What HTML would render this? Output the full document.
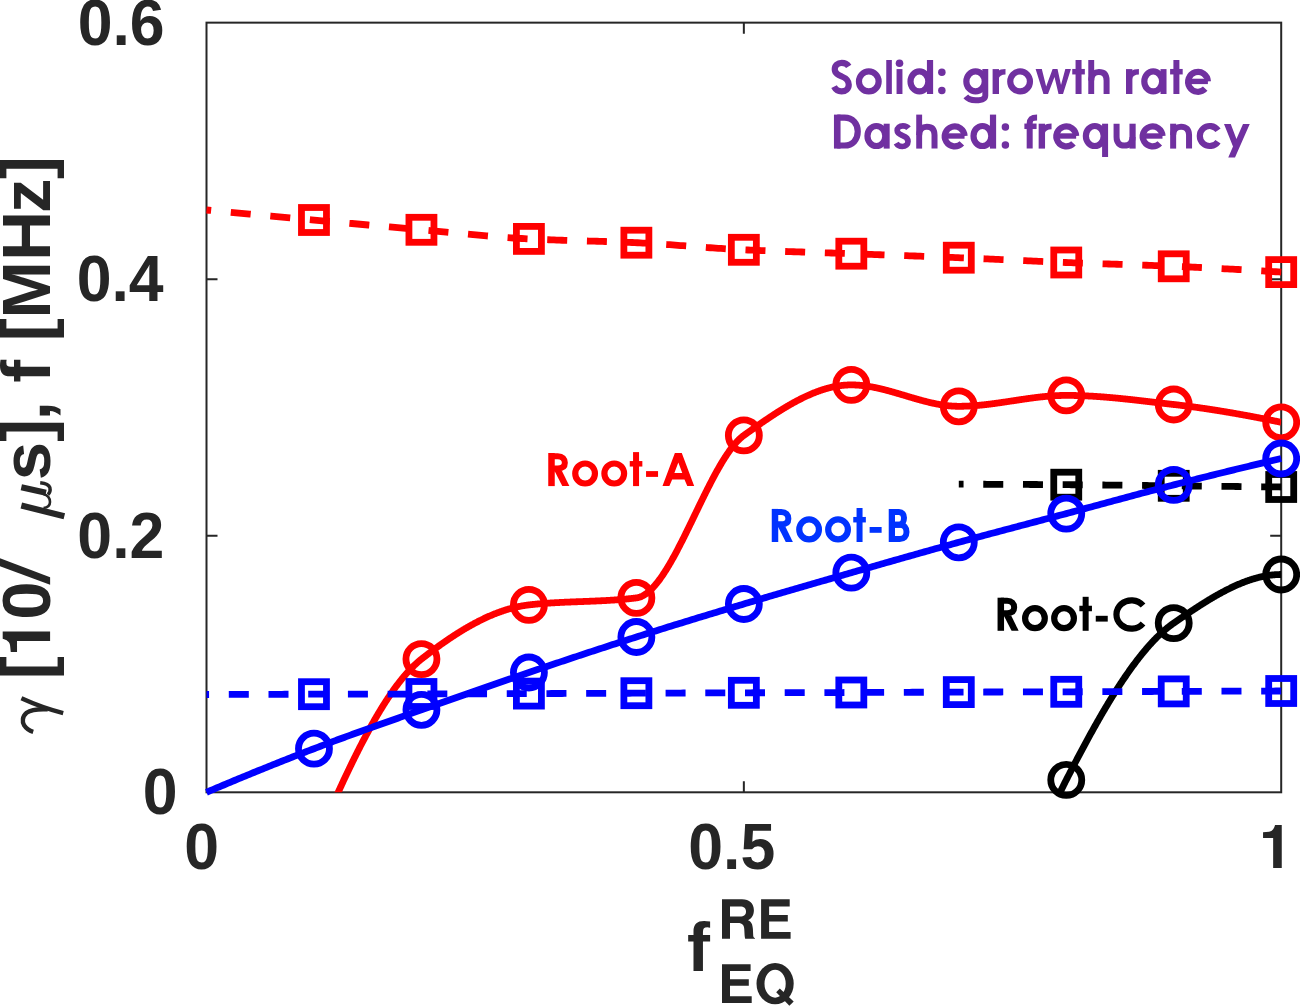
<!DOCTYPE html>
<html><head><meta charset="utf-8"><style>html,body{margin:0;padding:0;background:#fff;width:1300px;height:1006px;overflow:hidden}svg{display:block}</style></head>
<body><svg width="1300" height="1006" viewBox="0 0 1300 1006">
<defs><clipPath id="ax"><rect x="206.5" y="22.65" width="1074.70" height="769.65"/></clipPath></defs>
<rect width="1300" height="1006" fill="#fff"/>
<rect x="206.5" y="22.65" width="1074.70" height="769.65" fill="none" stroke="#262626" stroke-width="2"/><path d="M743.85,792.3 v-11 M743.85,22.65 v11" stroke="#262626" stroke-width="2"/><path d="M206.5,535.75 h11 M1281.2,535.75 h-11" stroke="#262626" stroke-width="2"/><path d="M206.5,279.20 h11 M1281.2,279.20 h-11" stroke="#262626" stroke-width="2"/>
<path d="M1281.20,272.10 L1278.51,271.93 L1275.81,271.76 L1273.12,271.59 L1270.43,271.43 L1267.73,271.26 L1265.04,271.10 L1262.35,270.93 L1259.65,270.77 L1256.96,270.61 L1254.27,270.45 L1251.57,270.29 L1248.88,270.13 L1246.18,269.98 L1243.49,269.82 L1240.80,269.67 L1238.10,269.51 L1235.41,269.36 L1232.72,269.21 L1230.02,269.06 L1227.33,268.92 L1224.64,268.77 L1221.94,268.63 L1219.25,268.48 L1216.56,268.34 L1213.86,268.20 L1211.17,268.06 L1208.48,267.93 L1205.78,267.79 L1203.09,267.66 L1200.40,267.52 L1197.70,267.39 L1195.01,267.26 L1192.32,267.14 L1189.62,267.01 L1186.93,266.88 L1184.23,266.76 L1181.54,266.64 L1178.85,266.52 L1176.15,266.40 L1173.46,266.29 L1170.77,266.17 L1168.07,266.06 L1165.38,265.95 L1162.69,265.85 L1159.99,265.74 L1157.30,265.64 L1154.61,265.54 L1151.91,265.44 L1149.22,265.34 L1146.53,265.25 L1143.83,265.15 L1141.14,265.06 L1138.45,264.97 L1135.75,264.88 L1133.06,264.79 L1130.36,264.70 L1127.67,264.61 L1124.98,264.52 L1122.28,264.43 L1119.59,264.34 L1116.90,264.26 L1114.20,264.17 L1111.51,264.08 L1108.82,263.99 L1106.12,263.91 L1103.43,263.82 L1100.74,263.73 L1098.04,263.64 L1095.35,263.55 L1092.66,263.46 L1089.96,263.37 L1087.27,263.27 L1084.58,263.18 L1081.88,263.08 L1079.19,262.99 L1076.50,262.89 L1073.80,262.79 L1071.11,262.69 L1068.41,262.58 L1065.72,262.48 L1063.03,262.37 L1060.33,262.26 L1057.64,262.15 L1054.95,262.04 L1052.25,261.92 L1049.56,261.81 L1046.87,261.69 L1044.17,261.57 L1041.48,261.45 L1038.79,261.33 L1036.09,261.21 L1033.40,261.09 L1030.71,260.96 L1028.01,260.84 L1025.32,260.71 L1022.63,260.59 L1019.93,260.46 L1017.24,260.34 L1014.55,260.21 L1011.85,260.08 L1009.16,259.96 L1006.46,259.83 L1003.77,259.70 L1001.08,259.58 L998.38,259.45 L995.69,259.33 L993.00,259.20 L990.30,259.08 L987.61,258.95 L984.92,258.83 L982.22,258.71 L979.53,258.59 L976.84,258.47 L974.14,258.35 L971.45,258.23 L968.76,258.12 L966.06,258.00 L963.37,257.89 L960.68,257.78 L957.98,257.67 L955.29,257.56 L952.59,257.45 L949.90,257.34 L947.21,257.24 L944.51,257.13 L941.82,257.03 L939.13,256.92 L936.43,256.82 L933.74,256.72 L931.05,256.61 L928.35,256.51 L925.66,256.41 L922.97,256.31 L920.27,256.21 L917.58,256.11 L914.89,256.01 L912.19,255.91 L909.50,255.81 L906.81,255.71 L904.11,255.61 L901.42,255.52 L898.73,255.42 L896.03,255.32 L893.34,255.22 L890.64,255.13 L887.95,255.03 L885.26,254.93 L882.56,254.83 L879.87,254.74 L877.18,254.64 L874.48,254.54 L871.79,254.44 L869.10,254.35 L866.40,254.25 L863.71,254.15 L861.02,254.05 L858.32,253.96 L855.63,253.86 L852.94,253.76 L850.24,253.66 L847.55,253.56 L844.86,253.47 L842.16,253.37 L839.47,253.28 L836.78,253.19 L834.08,253.09 L831.39,253.00 L828.69,252.91 L826.00,252.82 L823.31,252.73 L820.61,252.64 L817.92,252.56 L815.23,252.47 L812.53,252.38 L809.84,252.29 L807.15,252.20 L804.45,252.11 L801.76,252.02 L799.07,251.94 L796.37,251.84 L793.68,251.75 L790.99,251.66 L788.29,251.57 L785.60,251.48 L782.91,251.38 L780.21,251.28 L777.52,251.19 L774.83,251.09 L772.13,250.99 L769.44,250.88 L766.74,250.78 L764.05,250.67 L761.36,250.56 L758.66,250.45 L755.97,250.34 L753.28,250.22 L750.58,250.11 L747.89,249.99 L745.20,249.86 L742.50,249.74 L739.81,249.60 L737.12,249.46 L734.42,249.31 L731.73,249.16 L729.04,249.00 L726.34,248.83 L723.65,248.66 L720.96,248.48 L718.26,248.30 L715.57,248.12 L712.87,247.93 L710.18,247.74 L707.49,247.54 L704.79,247.34 L702.10,247.14 L699.41,246.94 L696.71,246.74 L694.02,246.54 L691.33,246.33 L688.63,246.13 L685.94,245.92 L683.25,245.72 L680.55,245.52 L677.86,245.32 L675.17,245.12 L672.47,244.92 L669.78,244.73 L667.09,244.54 L664.39,244.35 L661.70,244.16 L659.01,243.98 L656.31,243.81 L653.62,243.64 L650.92,243.48 L648.23,243.32 L645.54,243.17 L642.84,243.02 L640.15,242.88 L637.46,242.75 L634.76,242.63 L632.07,242.51 L629.38,242.39 L626.68,242.28 L623.99,242.18 L621.30,242.07 L618.60,241.97 L615.91,241.88 L613.22,241.79 L610.52,241.69 L607.83,241.61 L605.14,241.52 L602.44,241.44 L599.75,241.35 L597.06,241.27 L594.36,241.19 L591.67,241.11 L588.97,241.04 L586.28,240.96 L583.59,240.88 L580.89,240.80 L578.20,240.72 L575.51,240.64 L572.81,240.56 L570.12,240.48 L567.43,240.40 L564.73,240.31 L562.04,240.23 L559.35,240.14 L556.65,240.05 L553.96,239.95 L551.27,239.85 L548.57,239.75 L545.88,239.65 L543.19,239.54 L540.49,239.43 L537.80,239.32 L535.11,239.20 L532.41,239.07 L529.72,238.94 L527.02,238.80 L524.33,238.66 L521.64,238.51 L518.94,238.34 L516.25,238.17 L513.56,238.00 L510.86,237.81 L508.17,237.62 L505.48,237.43 L502.78,237.22 L500.09,237.01 L497.40,236.80 L494.70,236.58 L492.01,236.36 L489.32,236.13 L486.62,235.89 L483.93,235.65 L481.24,235.41 L478.54,235.17 L475.85,234.92 L473.15,234.67 L470.46,234.42 L467.77,234.17 L465.07,233.91 L462.38,233.65 L459.69,233.39 L456.99,233.13 L454.30,232.87 L451.61,232.62 L448.91,232.36 L446.22,232.10 L443.53,231.84 L440.83,231.58 L438.14,231.33 L435.45,231.07 L432.75,230.82 L430.06,230.57 L427.37,230.33 L424.67,230.09 L421.98,229.85 L419.29,229.61 L416.59,229.37 L413.90,229.13 L411.20,228.90 L408.51,228.66 L405.82,228.42 L403.12,228.17 L400.43,227.93 L397.74,227.69 L395.04,227.45 L392.35,227.20 L389.66,226.96 L386.96,226.72 L384.27,226.47 L381.58,226.23 L378.88,225.98 L376.19,225.74 L373.50,225.49 L370.80,225.24 L368.11,224.99 L365.42,224.75 L362.72,224.50 L360.03,224.25 L357.34,224.00 L354.64,223.76 L351.95,223.51 L349.25,223.26 L346.56,223.01 L343.87,222.76 L341.17,222.51 L338.48,222.26 L335.79,222.01 L333.09,221.77 L330.40,221.52 L327.71,221.27 L325.01,221.02 L322.32,220.77 L319.63,220.52 L316.93,220.27 L314.24,220.02 L311.55,219.78 L308.85,219.53 L306.16,219.28 L303.47,219.03 L300.77,218.78 L298.08,218.53 L295.38,218.29 L292.69,218.04 L290.00,217.79 L287.30,217.54 L284.61,217.29 L281.92,217.04 L279.22,216.79 L276.53,216.54 L273.84,216.29 L271.14,216.04 L268.45,215.79 L265.76,215.54 L263.06,215.29 L260.37,215.04 L257.68,214.79 L254.98,214.54 L252.29,214.29 L249.60,214.03 L246.90,213.78 L244.21,213.53 L241.52,213.28 L238.82,213.03 L236.13,212.78 L233.43,212.53 L230.74,212.27 L228.05,212.02 L225.35,211.77 L222.66,211.52 L219.97,211.26 L217.27,211.01 L214.58,210.76 L211.89,210.51 L209.19,210.25 L206.50,210.00" fill="none" stroke="#ff0000" stroke-width="6.8" stroke-dasharray="20.0 19.708"/><rect x="301.47" y="207.50" width="25.0" height="25.0" fill="none" stroke="#ff0000" stroke-width="6.8"/><rect x="408.94" y="217.30" width="25.0" height="25.0" fill="none" stroke="#ff0000" stroke-width="6.8"/><rect x="516.41" y="226.40" width="25.0" height="25.0" fill="none" stroke="#ff0000" stroke-width="6.8"/><rect x="623.88" y="230.20" width="25.0" height="25.0" fill="none" stroke="#ff0000" stroke-width="6.8"/><rect x="731.35" y="237.30" width="25.0" height="25.0" fill="none" stroke="#ff0000" stroke-width="6.8"/><rect x="838.82" y="241.20" width="25.0" height="25.0" fill="none" stroke="#ff0000" stroke-width="6.8"/><rect x="946.29" y="245.20" width="25.0" height="25.0" fill="none" stroke="#ff0000" stroke-width="6.8"/><rect x="1053.76" y="250.00" width="25.0" height="25.0" fill="none" stroke="#ff0000" stroke-width="6.8"/><rect x="1161.23" y="253.80" width="25.0" height="25.0" fill="none" stroke="#ff0000" stroke-width="6.8"/><rect x="1268.70" y="259.60" width="25.0" height="25.0" fill="none" stroke="#ff0000" stroke-width="6.8"/><g clip-path="url(#ax)"><path d="M313.97,847.40 L314.51,846.14 L315.04,844.88 L315.58,843.63 L316.12,842.37 L316.66,841.12 L317.19,839.86 L317.73,838.61 L318.27,837.36 L318.81,836.11 L319.34,834.87 L319.88,833.62 L320.42,832.38 L320.96,831.13 L321.49,829.89 L322.03,828.65 L322.57,827.42 L323.10,826.18 L323.64,824.95 L324.18,823.71 L324.72,822.48 L325.25,821.25 L325.79,820.02 L326.33,818.80 L326.87,817.57 L327.40,816.35 L327.94,815.13 L328.48,813.91 L329.02,812.70 L329.55,811.48 L330.09,810.27 L330.63,809.06 L331.17,807.85 L331.70,806.65 L332.24,805.44 L332.78,804.24 L333.31,803.04 L333.85,801.84 L334.39,800.65 L334.93,799.46 L335.46,798.27 L336.00,797.08 L336.54,795.89 L337.08,794.71 L337.61,793.53 L338.15,792.35 L338.69,791.18 L339.23,790.00 L339.76,788.83 L340.30,787.66 L340.84,786.50 L341.37,785.34 L341.91,784.18 L342.45,783.02 L342.99,781.87 L343.52,780.71 L344.06,779.57 L344.60,778.42 L345.14,777.28 L345.67,776.14 L346.21,775.00 L346.75,773.87 L347.29,772.73 L347.82,771.61 L348.36,770.48 L348.90,769.36 L349.44,768.24 L349.97,767.13 L350.51,766.01 L351.05,764.90 L351.58,763.80 L352.12,762.70 L352.66,761.60 L353.20,760.50 L353.73,759.41 L354.27,758.32 L354.81,757.23 L355.35,756.15 L355.88,755.07 L356.42,754.00 L356.96,752.92 L357.50,751.86 L358.03,750.79 L358.57,749.73 L359.11,748.67 L359.64,747.62 L360.18,746.57 L360.72,745.52 L361.26,744.48 L361.79,743.44 L362.33,742.41 L362.87,741.38 L363.41,740.35 L363.94,739.33 L364.48,738.31 L365.02,737.30 L365.56,736.29 L366.09,735.28 L366.63,734.28 L367.17,733.28 L367.71,732.28 L368.24,731.29 L368.78,730.31 L369.32,729.33 L369.85,728.35 L370.39,727.38 L370.93,726.41 L371.47,725.44 L372.00,724.48 L372.54,723.53 L373.08,722.58 L373.62,721.63 L374.15,720.69 L374.69,719.75 L375.23,718.82 L375.77,717.89 L376.30,716.97 L376.84,716.05 L377.38,715.13 L377.91,714.22 L378.45,713.32 L378.99,712.42 L379.53,711.52 L380.06,710.63 L380.60,709.75 L381.14,708.87 L381.68,707.99 L382.21,707.12 L382.75,706.26 L383.29,705.40 L383.83,704.54 L384.36,703.69 L384.90,702.85 L385.44,702.01 L385.97,701.17 L386.51,700.34 L387.05,699.52 L387.59,698.70 L388.12,697.89 L388.66,697.08 L389.20,696.28 L389.74,695.48 L390.27,694.69 L390.81,693.90 L391.35,693.12 L391.89,692.34 L392.42,691.57 L392.96,690.81 L393.50,690.05 L394.04,689.30 L394.57,688.55 L395.11,687.81 L395.65,687.07 L396.18,686.34 L396.72,685.62 L397.26,684.90 L397.80,684.19 L398.33,683.48 L398.87,682.78 L399.41,682.09 L399.95,681.40 L400.48,680.71 L401.02,680.04 L401.56,679.37 L402.10,678.70 L402.63,678.04 L403.17,677.39 L403.71,676.74 L404.24,676.10 L404.78,675.47 L405.32,674.84 L405.86,674.22 L406.39,673.61 L406.93,673.00 L407.47,672.40 L408.01,671.80 L408.54,671.21 L409.08,670.63 L409.62,670.06 L410.16,669.49 L410.69,668.92 L411.23,668.37 L411.77,667.82 L412.31,667.27 L412.84,666.74 L413.38,666.21 L413.92,665.69 L414.45,665.17 L414.99,664.66 L415.53,664.16 L416.07,663.67 L416.60,663.18 L417.14,662.70 L417.68,662.22 L418.22,661.75 L418.75,661.29 L419.29,660.84 L419.83,660.39 L420.37,659.96 L420.90,659.52 L421.44,659.10 L421.98,658.68 L422.51,658.26 L423.05,657.84 L423.59,657.42 L424.13,657.01 L424.66,656.59 L425.20,656.18 L425.74,655.76 L426.28,655.35 L426.81,654.94 L427.35,654.53 L427.89,654.12 L428.43,653.71 L428.96,653.30 L429.50,652.89 L430.04,652.49 L430.57,652.08 L431.11,651.68 L431.65,651.28 L432.19,650.88 L432.72,650.48 L433.26,650.08 L433.80,649.68 L434.34,649.28 L434.87,648.89 L435.41,648.49 L435.95,648.10 L436.49,647.70 L437.02,647.31 L437.56,646.92 L438.10,646.53 L438.64,646.15 L439.17,645.76 L439.71,645.37 L440.25,644.99 L440.78,644.61 L441.32,644.22 L441.86,643.84 L442.40,643.46 L442.93,643.09 L443.47,642.71 L444.01,642.33 L444.55,641.96 L445.08,641.59 L445.62,641.21 L446.16,640.84 L446.70,640.48 L447.23,640.11 L447.77,639.74 L448.31,639.38 L448.84,639.01 L449.38,638.65 L449.92,638.29 L450.46,637.93 L450.99,637.57 L451.53,637.21 L452.07,636.86 L452.61,636.50 L453.14,636.15 L453.68,635.80 L454.22,635.45 L454.76,635.10 L455.29,634.76 L455.83,634.41 L456.37,634.07 L456.91,633.72 L457.44,633.38 L457.98,633.04 L458.52,632.71 L459.05,632.37 L459.59,632.03 L460.13,631.70 L460.67,631.37 L461.20,631.04 L461.74,630.71 L462.28,630.38 L462.82,630.06 L463.35,629.73 L463.89,629.41 L464.43,629.09 L464.97,628.77 L465.50,628.45 L466.04,628.14 L466.58,627.82 L467.11,627.51 L467.65,627.20 L468.19,626.89 L468.73,626.58 L469.26,626.28 L469.80,625.97 L470.34,625.67 L470.88,625.37 L471.41,625.07 L471.95,624.78 L472.49,624.48 L473.03,624.19 L473.56,623.89 L474.10,623.60 L474.64,623.32 L475.18,623.03 L475.71,622.74 L476.25,622.46 L476.79,622.18 L477.32,621.90 L477.86,621.62 L478.40,621.35 L478.94,621.07 L479.47,620.80 L480.01,620.53 L480.55,620.26 L481.09,620.00 L481.62,619.73 L482.16,619.47 L482.70,619.21 L483.24,618.95 L483.77,618.69 L484.31,618.44 L484.85,618.18 L485.38,617.93 L485.92,617.68 L486.46,617.44 L487.00,617.19 L487.53,616.95 L488.07,616.71 L488.61,616.47 L489.15,616.23 L489.68,616.00 L490.22,615.76 L490.76,615.53 L491.30,615.30 L491.83,615.08 L492.37,614.85 L492.91,614.63 L493.44,614.41 L493.98,614.19 L494.52,613.97 L495.06,613.76 L495.59,613.55 L496.13,613.33 L496.67,613.13 L497.21,612.92 L497.74,612.72 L498.28,612.52 L498.82,612.32 L499.36,612.12 L499.89,611.92 L500.43,611.73 L500.97,611.54 L501.51,611.35 L502.04,611.17 L502.58,610.98 L503.12,610.80 L503.65,610.62 L504.19,610.44 L504.73,610.27 L505.27,610.10 L505.80,609.93 L506.34,609.76 L506.88,609.59 L507.42,609.43 L507.95,609.27 L508.49,609.11 L509.03,608.95 L509.57,608.80 L510.10,608.65 L510.64,608.50 L511.18,608.35 L511.71,608.21 L512.25,608.07 L512.79,607.93 L513.33,607.79 L513.86,607.65 L514.40,607.52 L514.94,607.39 L515.48,607.26 L516.01,607.14 L516.55,607.02 L517.09,606.90 L517.63,606.78 L518.16,606.66 L518.70,606.55 L519.24,606.44 L519.78,606.33 L520.31,606.23 L520.85,606.13 L521.39,606.03 L521.92,605.93 L522.46,605.83 L523.00,605.74 L523.54,605.65 L524.07,605.57 L524.61,605.48 L525.15,605.40 L525.69,605.32 L526.22,605.24 L526.76,605.17 L527.30,605.10 L527.84,605.03 L528.37,604.96 L528.91,604.90 L529.45,604.84 L529.98,604.78 L530.52,604.72 L531.06,604.66 L531.60,604.60 L532.13,604.54 L532.67,604.49 L533.21,604.43 L533.75,604.38 L534.28,604.32 L534.82,604.27 L535.36,604.22 L535.90,604.16 L536.43,604.11 L536.97,604.06 L537.51,604.01 L538.04,603.96 L538.58,603.91 L539.12,603.87 L539.66,603.82 L540.19,603.77 L540.73,603.73 L541.27,603.68 L541.81,603.64 L542.34,603.60 L542.88,603.55 L543.42,603.51 L543.96,603.47 L544.49,603.43 L545.03,603.39 L545.57,603.35 L546.11,603.31 L546.64,603.27 L547.18,603.23 L547.72,603.19 L548.25,603.16 L548.79,603.12 L549.33,603.08 L549.87,603.05 L550.40,603.01 L550.94,602.98 L551.48,602.95 L552.02,602.91 L552.55,602.88 L553.09,602.85 L553.63,602.82 L554.17,602.78 L554.70,602.75 L555.24,602.72 L555.78,602.69 L556.31,602.66 L556.85,602.63 L557.39,602.60 L557.93,602.57 L558.46,602.55 L559.00,602.52 L559.54,602.49 L560.08,602.46 L560.61,602.44 L561.15,602.41 L561.69,602.38 L562.23,602.36 L562.76,602.33 L563.30,602.31 L563.84,602.28 L564.38,602.26 L564.91,602.23 L565.45,602.21 L565.99,602.19 L566.52,602.16 L567.06,602.14 L567.60,602.12 L568.14,602.09 L568.67,602.07 L569.21,602.05 L569.75,602.03 L570.29,602.00 L570.82,601.98 L571.36,601.96 L571.90,601.94 L572.44,601.92 L572.97,601.90 L573.51,601.88 L574.05,601.85 L574.58,601.83 L575.12,601.81 L575.66,601.79 L576.20,601.77 L576.73,601.75 L577.27,601.73 L577.81,601.71 L578.35,601.69 L578.88,601.67 L579.42,601.65 L579.96,601.63 L580.50,601.61 L581.03,601.59 L581.57,601.57 L582.11,601.55 L582.64,601.53 L583.18,601.51 L583.72,601.49 L584.26,601.47 L584.79,601.45 L585.33,601.43 L585.87,601.41 L586.41,601.39 L586.94,601.36 L587.48,601.34 L588.02,601.32 L588.56,601.30 L589.09,601.28 L589.63,601.26 L590.17,601.24 L590.71,601.22 L591.24,601.19 L591.78,601.17 L592.32,601.15 L592.85,601.13 L593.39,601.11 L593.93,601.08 L594.47,601.06 L595.00,601.04 L595.54,601.01 L596.08,600.99 L596.62,600.97 L597.15,600.94 L597.69,600.92 L598.23,600.89 L598.77,600.87 L599.30,600.84 L599.84,600.82 L600.38,600.79 L600.91,600.77 L601.45,600.74 L601.99,600.71 L602.53,600.69 L603.06,600.66 L603.60,600.63 L604.14,600.60 L604.68,600.58 L605.21,600.55 L605.75,600.52 L606.29,600.49 L606.83,600.46 L607.36,600.43 L607.90,600.40 L608.44,600.36 L608.98,600.33 L609.51,600.30 L610.05,600.27 L610.59,600.23 L611.12,600.20 L611.66,600.17 L612.20,600.13 L612.74,600.10 L613.27,600.06 L613.81,600.02 L614.35,599.99 L614.89,599.95 L615.42,599.91 L615.96,599.87 L616.50,599.83 L617.04,599.79 L617.57,599.75 L618.11,599.71 L618.65,599.67 L619.18,599.63 L619.72,599.59 L620.26,599.54 L620.80,599.50 L621.33,599.45 L621.87,599.41 L622.41,599.36 L622.95,599.32 L623.48,599.27 L624.02,599.22 L624.56,599.17 L625.10,599.12 L625.63,599.07 L626.17,599.02 L626.71,598.97 L627.25,598.92 L627.78,598.86 L628.32,598.81 L628.86,598.75 L629.39,598.70 L629.93,598.64 L630.47,598.58 L631.01,598.53 L631.54,598.47 L632.08,598.41 L632.62,598.35 L633.16,598.29 L633.69,598.22 L634.23,598.16 L634.77,598.10 L635.31,598.03 L635.84,597.97 L636.38,597.90 L636.92,597.82 L637.45,597.73 L637.99,597.61 L638.53,597.48 L639.07,597.33 L639.60,597.16 L640.14,596.97 L640.68,596.76 L641.22,596.54 L641.75,596.30 L642.29,596.04 L642.83,595.76 L643.37,595.47 L643.90,595.16 L644.44,594.83 L644.98,594.49 L645.51,594.13 L646.05,593.76 L646.59,593.36 L647.13,592.96 L647.66,592.53 L648.20,592.09 L648.74,591.64 L649.28,591.17 L649.81,590.69 L650.35,590.19 L650.89,589.67 L651.43,589.15 L651.96,588.60 L652.50,588.05 L653.04,587.48 L653.58,586.89 L654.11,586.30 L654.65,585.68 L655.19,585.06 L655.72,584.42 L656.26,583.77 L656.80,583.11 L657.34,582.44 L657.87,581.75 L658.41,581.05 L658.95,580.34 L659.49,579.61 L660.02,578.88 L660.56,578.13 L661.10,577.37 L661.64,576.61 L662.17,575.83 L662.71,575.03 L663.25,574.23 L663.78,573.42 L664.32,572.60 L664.86,571.77 L665.40,570.93 L665.93,570.08 L666.47,569.22 L667.01,568.35 L667.55,567.47 L668.08,566.58 L668.62,565.68 L669.16,564.78 L669.70,563.86 L670.23,562.94 L670.77,562.01 L671.31,561.07 L671.85,560.12 L672.38,559.17 L672.92,558.21 L673.46,557.24 L673.99,556.27 L674.53,555.28 L675.07,554.30 L675.61,553.30 L676.14,552.30 L676.68,551.29 L677.22,550.28 L677.76,549.26 L678.29,548.23 L678.83,547.20 L679.37,546.16 L679.91,545.12 L680.44,544.08 L680.98,543.03 L681.52,541.97 L682.05,540.91 L682.59,539.85 L683.13,538.78 L683.67,537.71 L684.20,536.63 L684.74,535.55 L685.28,534.47 L685.82,533.38 L686.35,532.29 L686.89,531.20 L687.43,530.11 L687.97,529.01 L688.50,527.91 L689.04,526.81 L689.58,525.71 L690.12,524.60 L690.65,523.50 L691.19,522.39 L691.73,521.28 L692.26,520.17 L692.80,519.06 L693.34,517.95 L693.88,516.84 L694.41,515.72 L694.95,514.61 L695.49,513.50 L696.03,512.38 L696.56,511.27 L697.10,510.16 L697.64,509.05 L698.18,507.94 L698.71,506.83 L699.25,505.72 L699.79,504.62 L700.32,503.51 L700.86,502.41 L701.40,501.31 L701.94,500.21 L702.47,499.11 L703.01,498.02 L703.55,496.92 L704.09,495.83 L704.62,494.75 L705.16,493.67 L705.70,492.59 L706.24,491.51 L706.77,490.44 L707.31,489.37 L707.85,488.30 L708.38,487.24 L708.92,486.19 L709.46,485.14 L710.00,484.09 L710.53,483.05 L711.07,482.01 L711.61,480.98 L712.15,479.96 L712.68,478.94 L713.22,477.92 L713.76,476.91 L714.30,475.91 L714.83,474.91 L715.37,473.92 L715.91,472.94 L716.45,471.97 L716.98,471.00 L717.52,470.04 L718.06,469.08 L718.59,468.13 L719.13,467.20 L719.67,466.26 L720.21,465.34 L720.74,464.43 L721.28,463.52 L721.82,462.62 L722.36,461.73 L722.89,460.85 L723.43,459.98 L723.97,459.12 L724.51,458.27 L725.04,457.43 L725.58,456.59 L726.12,455.77 L726.65,454.96 L727.19,454.16 L727.73,453.37 L728.27,452.59 L728.80,451.82 L729.34,451.06 L729.88,450.31 L730.42,449.57 L730.95,448.85 L731.49,448.14 L732.03,447.44 L732.57,446.75 L733.10,446.07 L733.64,445.41 L734.18,444.76 L734.72,444.12 L735.25,443.49 L735.79,442.88 L736.33,442.28 L736.86,441.70 L737.40,441.12 L737.94,440.57 L738.48,440.02 L739.01,439.49 L739.55,438.98 L740.09,438.48 L740.63,437.99 L741.16,437.52 L741.70,437.07 L742.24,436.63 L742.78,436.20 L743.31,435.79 L743.85,435.40 L744.39,435.01 L744.92,434.63 L745.46,434.24 L746.00,433.86 L746.54,433.48 L747.07,433.09 L747.61,432.71 L748.15,432.32 L748.69,431.94 L749.22,431.56 L749.76,431.17 L750.30,430.79 L750.84,430.41 L751.37,430.03 L751.91,429.65 L752.45,429.26 L752.98,428.88 L753.52,428.50 L754.06,428.12 L754.60,427.74 L755.13,427.37 L755.67,426.99 L756.21,426.61 L756.75,426.23 L757.28,425.86 L757.82,425.48 L758.36,425.10 L758.90,424.73 L759.43,424.36 L759.97,423.98 L760.51,423.61 L761.05,423.24 L761.58,422.86 L762.12,422.49 L762.66,422.12 L763.19,421.75 L763.73,421.39 L764.27,421.02 L764.81,420.65 L765.34,420.29 L765.88,419.92 L766.42,419.56 L766.96,419.19 L767.49,418.83 L768.03,418.47 L768.57,418.11 L769.11,417.75 L769.64,417.39 L770.18,417.03 L770.72,416.67 L771.25,416.32 L771.79,415.96 L772.33,415.61 L772.87,415.26 L773.40,414.91 L773.94,414.56 L774.48,414.21 L775.02,413.86 L775.55,413.51 L776.09,413.17 L776.63,412.82 L777.17,412.48 L777.70,412.14 L778.24,411.79 L778.78,411.45 L779.32,411.12 L779.85,410.78 L780.39,410.44 L780.93,410.11 L781.46,409.78 L782.00,409.45 L782.54,409.12 L783.08,408.79 L783.61,408.46 L784.15,408.13 L784.69,407.81 L785.23,407.49 L785.76,407.17 L786.30,406.85 L786.84,406.53 L787.38,406.21 L787.91,405.90 L788.45,405.58 L788.99,405.27 L789.52,404.96 L790.06,404.65 L790.60,404.35 L791.14,404.04 L791.67,403.74 L792.21,403.44 L792.75,403.14 L793.29,402.84 L793.82,402.54 L794.36,402.25 L794.90,401.95 L795.44,401.66 L795.97,401.37 L796.51,401.09 L797.05,400.80 L797.59,400.52 L798.12,400.24 L798.66,399.96 L799.20,399.68 L799.73,399.40 L800.27,399.13 L800.81,398.86 L801.35,398.59 L801.88,398.32 L802.42,398.06 L802.96,397.79 L803.50,397.53 L804.03,397.27 L804.57,397.02 L805.11,396.76 L805.65,396.51 L806.18,396.26 L806.72,396.01 L807.26,395.76 L807.79,395.52 L808.33,395.28 L808.87,395.04 L809.41,394.80 L809.94,394.57 L810.48,394.34 L811.02,394.11 L811.56,393.88 L812.09,393.65 L812.63,393.43 L813.17,393.21 L813.71,392.99 L814.24,392.78 L814.78,392.56 L815.32,392.35 L815.85,392.15 L816.39,391.94 L816.93,391.74 L817.47,391.54 L818.00,391.34 L818.54,391.15 L819.08,390.95 L819.62,390.76 L820.15,390.58 L820.69,390.39 L821.23,390.21 L821.77,390.03 L822.30,389.86 L822.84,389.68 L823.38,389.51 L823.92,389.34 L824.45,389.18 L824.99,389.02 L825.53,388.86 L826.06,388.70 L826.60,388.55 L827.14,388.40 L827.68,388.25 L828.21,388.10 L828.75,387.96 L829.29,387.82 L829.83,387.69 L830.36,387.55 L830.90,387.42 L831.44,387.30 L831.98,387.17 L832.51,387.05 L833.05,386.93 L833.59,386.82 L834.12,386.71 L834.66,386.60 L835.20,386.49 L835.74,386.39 L836.27,386.29 L836.81,386.20 L837.35,386.11 L837.89,386.02 L838.42,385.93 L838.96,385.85 L839.50,385.77 L840.04,385.69 L840.57,385.62 L841.11,385.55 L841.65,385.49 L842.19,385.42 L842.72,385.36 L843.26,385.31 L843.80,385.26 L844.33,385.21 L844.87,385.16 L845.41,385.12 L845.95,385.08 L846.48,385.05 L847.02,385.02 L847.56,384.99 L848.10,384.97 L848.63,384.95 L849.17,384.93 L849.71,384.92 L850.25,384.91 L850.78,384.90 L851.32,384.90 L851.86,384.90 L852.39,384.91 L852.93,384.91 L853.47,384.93 L854.01,384.94 L854.54,384.96 L855.08,384.98 L855.62,385.00 L856.16,385.03 L856.69,385.06 L857.23,385.09 L857.77,385.12 L858.31,385.16 L858.84,385.20 L859.38,385.24 L859.92,385.29 L860.45,385.34 L860.99,385.39 L861.53,385.44 L862.07,385.50 L862.60,385.56 L863.14,385.62 L863.68,385.68 L864.22,385.75 L864.75,385.82 L865.29,385.89 L865.83,385.96 L866.37,386.04 L866.90,386.12 L867.44,386.20 L867.98,386.28 L868.52,386.37 L869.05,386.46 L869.59,386.55 L870.13,386.64 L870.66,386.73 L871.20,386.83 L871.74,386.92 L872.28,387.02 L872.81,387.13 L873.35,387.23 L873.89,387.33 L874.43,387.44 L874.96,387.55 L875.50,387.66 L876.04,387.78 L876.58,387.89 L877.11,388.01 L877.65,388.12 L878.19,388.24 L878.72,388.36 L879.26,388.49 L879.80,388.61 L880.34,388.74 L880.87,388.87 L881.41,388.99 L881.95,389.12 L882.49,389.26 L883.02,389.39 L883.56,389.52 L884.10,389.66 L884.64,389.79 L885.17,389.93 L885.71,390.07 L886.25,390.21 L886.79,390.35 L887.32,390.50 L887.86,390.64 L888.40,390.78 L888.93,390.93 L889.47,391.08 L890.01,391.22 L890.55,391.37 L891.08,391.52 L891.62,391.67 L892.16,391.82 L892.70,391.97 L893.23,392.13 L893.77,392.28 L894.31,392.43 L894.85,392.59 L895.38,392.74 L895.92,392.90 L896.46,393.05 L896.99,393.21 L897.53,393.37 L898.07,393.53 L898.61,393.68 L899.14,393.84 L899.68,394.00 L900.22,394.16 L900.76,394.32 L901.29,394.48 L901.83,394.64 L902.37,394.80 L902.91,394.96 L903.44,395.12 L903.98,395.28 L904.52,395.44 L905.06,395.60 L905.59,395.76 L906.13,395.92 L906.67,396.08 L907.20,396.24 L907.74,396.40 L908.28,396.56 L908.82,396.72 L909.35,396.88 L909.89,397.04 L910.43,397.20 L910.97,397.36 L911.50,397.52 L912.04,397.67 L912.58,397.83 L913.12,397.99 L913.65,398.15 L914.19,398.30 L914.73,398.46 L915.26,398.61 L915.80,398.77 L916.34,398.92 L916.88,399.07 L917.41,399.23 L917.95,399.38 L918.49,399.53 L919.03,399.68 L919.56,399.83 L920.10,399.98 L920.64,400.12 L921.18,400.27 L921.71,400.42 L922.25,400.56 L922.79,400.70 L923.32,400.85 L923.86,400.99 L924.40,401.13 L924.94,401.27 L925.47,401.41 L926.01,401.54 L926.55,401.68 L927.09,401.81 L927.62,401.94 L928.16,402.08 L928.70,402.21 L929.24,402.33 L929.77,402.46 L930.31,402.59 L930.85,402.71 L931.39,402.84 L931.92,402.96 L932.46,403.08 L933.00,403.19 L933.53,403.31 L934.07,403.42 L934.61,403.54 L935.15,403.65 L935.68,403.76 L936.22,403.87 L936.76,403.97 L937.30,404.07 L937.83,404.18 L938.37,404.28 L938.91,404.37 L939.45,404.47 L939.98,404.56 L940.52,404.65 L941.06,404.74 L941.59,404.83 L942.13,404.92 L942.67,405.00 L943.21,405.08 L943.74,405.16 L944.28,405.24 L944.82,405.31 L945.36,405.38 L945.89,405.45 L946.43,405.52 L946.97,405.58 L947.51,405.64 L948.04,405.70 L948.58,405.76 L949.12,405.81 L949.66,405.86 L950.19,405.91 L950.73,405.96 L951.27,406.00 L951.80,406.04 L952.34,406.08 L952.88,406.11 L953.42,406.14 L953.95,406.17 L954.49,406.20 L955.03,406.22 L955.57,406.24 L956.10,406.26 L956.64,406.27 L957.18,406.29 L957.72,406.29 L958.25,406.30 L958.79,406.30 L959.33,406.30 L959.86,406.30 L960.40,406.29 L960.94,406.29 L961.48,406.28 L962.01,406.27 L962.55,406.26 L963.09,406.25 L963.63,406.24 L964.16,406.22 L964.70,406.20 L965.24,406.19 L965.78,406.17 L966.31,406.15 L966.85,406.13 L967.39,406.10 L967.92,406.08 L968.46,406.05 L969.00,406.02 L969.54,405.99 L970.07,405.96 L970.61,405.93 L971.15,405.90 L971.69,405.87 L972.22,405.83 L972.76,405.80 L973.30,405.76 L973.84,405.72 L974.37,405.68 L974.91,405.64 L975.45,405.60 L975.99,405.55 L976.52,405.51 L977.06,405.46 L977.60,405.42 L978.13,405.37 L978.67,405.32 L979.21,405.27 L979.75,405.22 L980.28,405.17 L980.82,405.11 L981.36,405.06 L981.90,405.01 L982.43,404.95 L982.97,404.89 L983.51,404.84 L984.05,404.78 L984.58,404.72 L985.12,404.66 L985.66,404.60 L986.19,404.54 L986.73,404.47 L987.27,404.41 L987.81,404.35 L988.34,404.28 L988.88,404.21 L989.42,404.15 L989.96,404.08 L990.49,404.01 L991.03,403.95 L991.57,403.88 L992.11,403.81 L992.64,403.74 L993.18,403.67 L993.72,403.59 L994.26,403.52 L994.79,403.45 L995.33,403.38 L995.87,403.30 L996.40,403.23 L996.94,403.15 L997.48,403.08 L998.02,403.00 L998.55,402.93 L999.09,402.85 L999.63,402.77 L1000.17,402.70 L1000.70,402.62 L1001.24,402.54 L1001.78,402.46 L1002.32,402.38 L1002.85,402.31 L1003.39,402.23 L1003.93,402.15 L1004.46,402.07 L1005.00,401.99 L1005.54,401.91 L1006.08,401.83 L1006.61,401.75 L1007.15,401.66 L1007.69,401.58 L1008.23,401.50 L1008.76,401.42 L1009.30,401.34 L1009.84,401.26 L1010.38,401.18 L1010.91,401.10 L1011.45,401.01 L1011.99,400.93 L1012.53,400.85 L1013.06,400.77 L1013.60,400.69 L1014.14,400.60 L1014.67,400.52 L1015.21,400.44 L1015.75,400.36 L1016.29,400.28 L1016.82,400.20 L1017.36,400.12 L1017.90,400.04 L1018.44,399.95 L1018.97,399.87 L1019.51,399.79 L1020.05,399.71 L1020.59,399.63 L1021.12,399.55 L1021.66,399.47 L1022.20,399.39 L1022.73,399.32 L1023.27,399.24 L1023.81,399.16 L1024.35,399.08 L1024.88,399.00 L1025.42,398.93 L1025.96,398.85 L1026.50,398.77 L1027.03,398.70 L1027.57,398.62 L1028.11,398.55 L1028.65,398.47 L1029.18,398.40 L1029.72,398.32 L1030.26,398.25 L1030.79,398.18 L1031.33,398.11 L1031.87,398.03 L1032.41,397.96 L1032.94,397.89 L1033.48,397.82 L1034.02,397.75 L1034.56,397.69 L1035.09,397.62 L1035.63,397.55 L1036.17,397.49 L1036.71,397.42 L1037.24,397.35 L1037.78,397.29 L1038.32,397.23 L1038.86,397.16 L1039.39,397.10 L1039.93,397.04 L1040.47,396.98 L1041.00,396.92 L1041.54,396.86 L1042.08,396.81 L1042.62,396.75 L1043.15,396.69 L1043.69,396.64 L1044.23,396.59 L1044.77,396.53 L1045.30,396.48 L1045.84,396.43 L1046.38,396.38 L1046.92,396.33 L1047.45,396.28 L1047.99,396.24 L1048.53,396.19 L1049.06,396.15 L1049.60,396.10 L1050.14,396.06 L1050.68,396.02 L1051.21,395.98 L1051.75,395.94 L1052.29,395.90 L1052.83,395.87 L1053.36,395.83 L1053.90,395.80 L1054.44,395.77 L1054.98,395.74 L1055.51,395.71 L1056.05,395.68 L1056.59,395.65 L1057.13,395.62 L1057.66,395.60 L1058.20,395.57 L1058.74,395.55 L1059.27,395.53 L1059.81,395.51 L1060.35,395.50 L1060.89,395.48 L1061.42,395.46 L1061.96,395.45 L1062.50,395.44 L1063.04,395.43 L1063.57,395.42 L1064.11,395.41 L1064.65,395.41 L1065.19,395.40 L1065.72,395.40 L1066.26,395.40 L1066.80,395.40 L1067.33,395.40 L1067.87,395.40 L1068.41,395.41 L1068.95,395.41 L1069.48,395.41 L1070.02,395.42 L1070.56,395.42 L1071.10,395.43 L1071.63,395.44 L1072.17,395.45 L1072.71,395.45 L1073.25,395.46 L1073.78,395.47 L1074.32,395.48 L1074.86,395.49 L1075.39,395.51 L1075.93,395.52 L1076.47,395.53 L1077.01,395.55 L1077.54,395.56 L1078.08,395.58 L1078.62,395.59 L1079.16,395.61 L1079.69,395.63 L1080.23,395.64 L1080.77,395.66 L1081.31,395.68 L1081.84,395.70 L1082.38,395.72 L1082.92,395.74 L1083.46,395.77 L1083.99,395.79 L1084.53,395.81 L1085.07,395.83 L1085.60,395.86 L1086.14,395.88 L1086.68,395.91 L1087.22,395.93 L1087.75,395.96 L1088.29,395.99 L1088.83,396.02 L1089.37,396.04 L1089.90,396.07 L1090.44,396.10 L1090.98,396.13 L1091.52,396.16 L1092.05,396.19 L1092.59,396.23 L1093.13,396.26 L1093.66,396.29 L1094.20,396.32 L1094.74,396.36 L1095.28,396.39 L1095.81,396.43 L1096.35,396.46 L1096.89,396.50 L1097.43,396.53 L1097.96,396.57 L1098.50,396.61 L1099.04,396.64 L1099.58,396.68 L1100.11,396.72 L1100.65,396.76 L1101.19,396.80 L1101.73,396.84 L1102.26,396.88 L1102.80,396.92 L1103.34,396.96 L1103.87,397.00 L1104.41,397.05 L1104.95,397.09 L1105.49,397.13 L1106.02,397.18 L1106.56,397.22 L1107.10,397.27 L1107.64,397.31 L1108.17,397.36 L1108.71,397.40 L1109.25,397.45 L1109.79,397.49 L1110.32,397.54 L1110.86,397.59 L1111.40,397.64 L1111.93,397.68 L1112.47,397.73 L1113.01,397.78 L1113.55,397.83 L1114.08,397.88 L1114.62,397.93 L1115.16,397.98 L1115.70,398.03 L1116.23,398.08 L1116.77,398.13 L1117.31,398.18 L1117.85,398.23 L1118.38,398.29 L1118.92,398.34 L1119.46,398.39 L1119.99,398.44 L1120.53,398.50 L1121.07,398.55 L1121.61,398.61 L1122.14,398.66 L1122.68,398.71 L1123.22,398.77 L1123.76,398.82 L1124.29,398.88 L1124.83,398.94 L1125.37,398.99 L1125.91,399.05 L1126.44,399.10 L1126.98,399.16 L1127.52,399.22 L1128.06,399.27 L1128.59,399.33 L1129.13,399.39 L1129.67,399.45 L1130.20,399.50 L1130.74,399.56 L1131.28,399.62 L1131.82,399.68 L1132.35,399.74 L1132.89,399.80 L1133.43,399.86 L1133.97,399.92 L1134.50,399.98 L1135.04,400.04 L1135.58,400.10 L1136.12,400.16 L1136.65,400.22 L1137.19,400.28 L1137.73,400.34 L1138.26,400.40 L1138.80,400.46 L1139.34,400.52 L1139.88,400.58 L1140.41,400.64 L1140.95,400.70 L1141.49,400.76 L1142.03,400.83 L1142.56,400.89 L1143.10,400.95 L1143.64,401.01 L1144.18,401.07 L1144.71,401.14 L1145.25,401.20 L1145.79,401.26 L1146.33,401.32 L1146.86,401.38 L1147.40,401.45 L1147.94,401.51 L1148.47,401.57 L1149.01,401.63 L1149.55,401.70 L1150.09,401.76 L1150.62,401.82 L1151.16,401.89 L1151.70,401.95 L1152.24,402.01 L1152.77,402.08 L1153.31,402.14 L1153.85,402.20 L1154.39,402.26 L1154.92,402.33 L1155.46,402.39 L1156.00,402.45 L1156.53,402.52 L1157.07,402.58 L1157.61,402.64 L1158.15,402.70 L1158.68,402.77 L1159.22,402.83 L1159.76,402.89 L1160.30,402.96 L1160.83,403.02 L1161.37,403.08 L1161.91,403.14 L1162.45,403.21 L1162.98,403.27 L1163.52,403.33 L1164.06,403.39 L1164.60,403.46 L1165.13,403.52 L1165.67,403.58 L1166.21,403.64 L1166.74,403.71 L1167.28,403.77 L1167.82,403.83 L1168.36,403.89 L1168.89,403.95 L1169.43,404.01 L1169.97,404.07 L1170.51,404.14 L1171.04,404.20 L1171.58,404.26 L1172.12,404.32 L1172.66,404.38 L1173.19,404.44 L1173.73,404.50 L1174.27,404.56 L1174.80,404.62 L1175.34,404.68 L1175.88,404.74 L1176.42,404.81 L1176.95,404.87 L1177.49,404.93 L1178.03,404.99 L1178.57,405.06 L1179.10,405.12 L1179.64,405.18 L1180.18,405.25 L1180.72,405.31 L1181.25,405.38 L1181.79,405.44 L1182.33,405.51 L1182.86,405.57 L1183.40,405.64 L1183.94,405.71 L1184.48,405.77 L1185.01,405.84 L1185.55,405.91 L1186.09,405.98 L1186.63,406.05 L1187.16,406.11 L1187.70,406.18 L1188.24,406.25 L1188.78,406.32 L1189.31,406.39 L1189.85,406.46 L1190.39,406.53 L1190.93,406.60 L1191.46,406.68 L1192.00,406.75 L1192.54,406.82 L1193.07,406.89 L1193.61,406.96 L1194.15,407.04 L1194.69,407.11 L1195.22,407.18 L1195.76,407.26 L1196.30,407.33 L1196.84,407.41 L1197.37,407.48 L1197.91,407.56 L1198.45,407.63 L1198.99,407.71 L1199.52,407.78 L1200.06,407.86 L1200.60,407.94 L1201.13,408.01 L1201.67,408.09 L1202.21,408.17 L1202.75,408.25 L1203.28,408.32 L1203.82,408.40 L1204.36,408.48 L1204.90,408.56 L1205.43,408.64 L1205.97,408.72 L1206.51,408.80 L1207.05,408.88 L1207.58,408.96 L1208.12,409.04 L1208.66,409.12 L1209.20,409.20 L1209.73,409.29 L1210.27,409.37 L1210.81,409.45 L1211.34,409.53 L1211.88,409.62 L1212.42,409.70 L1212.96,409.78 L1213.49,409.87 L1214.03,409.95 L1214.57,410.03 L1215.11,410.12 L1215.64,410.20 L1216.18,410.29 L1216.72,410.37 L1217.26,410.46 L1217.79,410.54 L1218.33,410.63 L1218.87,410.72 L1219.40,410.80 L1219.94,410.89 L1220.48,410.98 L1221.02,411.07 L1221.55,411.15 L1222.09,411.24 L1222.63,411.33 L1223.17,411.42 L1223.70,411.51 L1224.24,411.60 L1224.78,411.69 L1225.32,411.78 L1225.85,411.87 L1226.39,411.96 L1226.93,412.05 L1227.47,412.14 L1228.00,412.23 L1228.54,412.32 L1229.08,412.41 L1229.61,412.50 L1230.15,412.59 L1230.69,412.69 L1231.23,412.78 L1231.76,412.87 L1232.30,412.96 L1232.84,413.06 L1233.38,413.15 L1233.91,413.24 L1234.45,413.34 L1234.99,413.43 L1235.53,413.53 L1236.06,413.62 L1236.60,413.72 L1237.14,413.81 L1237.67,413.91 L1238.21,414.00 L1238.75,414.10 L1239.29,414.19 L1239.82,414.29 L1240.36,414.39 L1240.90,414.48 L1241.44,414.58 L1241.97,414.68 L1242.51,414.77 L1243.05,414.87 L1243.59,414.97 L1244.12,415.07 L1244.66,415.16 L1245.20,415.26 L1245.73,415.36 L1246.27,415.46 L1246.81,415.56 L1247.35,415.66 L1247.88,415.76 L1248.42,415.86 L1248.96,415.96 L1249.50,416.06 L1250.03,416.16 L1250.57,416.26 L1251.11,416.36 L1251.65,416.46 L1252.18,416.56 L1252.72,416.66 L1253.26,416.76 L1253.80,416.87 L1254.33,416.97 L1254.87,417.07 L1255.41,417.17 L1255.94,417.28 L1256.48,417.38 L1257.02,417.48 L1257.56,417.58 L1258.09,417.69 L1258.63,417.79 L1259.17,417.90 L1259.71,418.00 L1260.24,418.10 L1260.78,418.21 L1261.32,418.31 L1261.86,418.42 L1262.39,418.52 L1262.93,418.63 L1263.47,418.73 L1264.00,418.84 L1264.54,418.94 L1265.08,419.05 L1265.62,419.15 L1266.15,419.26 L1266.69,419.37 L1267.23,419.47 L1267.77,419.58 L1268.30,419.69 L1268.84,419.79 L1269.38,419.90 L1269.92,420.01 L1270.45,420.12 L1270.99,420.22 L1271.53,420.33 L1272.07,420.44 L1272.60,420.55 L1273.14,420.66 L1273.68,420.76 L1274.21,420.87 L1274.75,420.98 L1275.29,421.09 L1275.83,421.20 L1276.36,421.31 L1276.90,421.42 L1277.44,421.53 L1277.98,421.64 L1278.51,421.75 L1279.05,421.86 L1279.59,421.97 L1280.13,422.08 L1280.66,422.19 L1281.20,422.30" fill="none" stroke="#ff0000" stroke-width="6.8" stroke-linejoin="round"/></g><circle cx="421.44" cy="659.10" r="15.5" fill="none" stroke="#ff0000" stroke-width="6.8"/><circle cx="528.91" cy="604.90" r="15.5" fill="none" stroke="#ff0000" stroke-width="6.8"/><circle cx="636.38" cy="597.90" r="15.5" fill="none" stroke="#ff0000" stroke-width="6.8"/><circle cx="743.85" cy="435.40" r="15.5" fill="none" stroke="#ff0000" stroke-width="6.8"/><circle cx="851.32" cy="384.90" r="15.5" fill="none" stroke="#ff0000" stroke-width="6.8"/><circle cx="958.79" cy="406.30" r="15.5" fill="none" stroke="#ff0000" stroke-width="6.8"/><circle cx="1066.26" cy="395.40" r="15.5" fill="none" stroke="#ff0000" stroke-width="6.8"/><circle cx="1173.73" cy="404.50" r="15.5" fill="none" stroke="#ff0000" stroke-width="6.8"/><circle cx="1281.20" cy="422.30" r="15.5" fill="none" stroke="#ff0000" stroke-width="6.8"/><path d="M1281.20,487.00 L1279.04,486.97 L1276.87,486.95 L1274.71,486.92 L1272.54,486.90 L1270.38,486.87 L1268.22,486.85 L1266.05,486.82 L1263.89,486.80 L1261.73,486.78 L1259.56,486.75 L1257.40,486.73 L1255.23,486.70 L1253.07,486.68 L1250.91,486.65 L1248.74,486.63 L1246.58,486.60 L1244.41,486.58 L1242.25,486.55 L1240.09,486.53 L1237.92,486.50 L1235.76,486.48 L1233.60,486.46 L1231.43,486.43 L1229.27,486.41 L1227.10,486.38 L1224.94,486.36 L1222.78,486.33 L1220.61,486.31 L1218.45,486.29 L1216.29,486.26 L1214.12,486.24 L1211.96,486.22 L1209.79,486.19 L1207.63,486.17 L1205.47,486.14 L1203.30,486.12 L1201.14,486.10 L1198.97,486.07 L1196.81,486.05 L1194.65,486.03 L1192.48,486.00 L1190.32,485.98 L1188.16,485.96 L1185.99,485.93 L1183.83,485.91 L1181.66,485.89 L1179.50,485.86 L1177.34,485.84 L1175.17,485.82 L1173.01,485.79 L1170.84,485.77 L1168.68,485.75 L1166.52,485.72 L1164.35,485.70 L1162.19,485.67 L1160.03,485.65 L1157.86,485.62 L1155.70,485.60 L1153.53,485.58 L1151.37,485.55 L1149.21,485.53 L1147.04,485.50 L1144.88,485.48 L1142.72,485.45 L1140.55,485.43 L1138.39,485.40 L1136.22,485.38 L1134.06,485.35 L1131.90,485.33 L1129.73,485.30 L1127.57,485.28 L1125.40,485.25 L1123.24,485.23 L1121.08,485.20 L1118.91,485.18 L1116.75,485.16 L1114.59,485.13 L1112.42,485.11 L1110.26,485.09 L1108.09,485.06 L1105.93,485.04 L1103.77,485.02 L1101.60,485.00 L1099.44,484.98 L1097.27,484.95 L1095.11,484.93 L1092.95,484.91 L1090.78,484.89 L1088.62,484.87 L1086.46,484.85 L1084.29,484.84 L1082.13,484.82 L1079.96,484.80 L1077.80,484.78 L1075.64,484.77 L1073.47,484.75 L1071.31,484.73 L1069.15,484.72 L1066.98,484.70 L1064.82,484.69 L1062.65,484.68 L1060.49,484.66 L1058.33,484.65 L1056.16,484.64 L1054.00,484.62 L1051.83,484.61 L1049.67,484.60 L1047.51,484.58 L1045.34,484.57 L1043.18,484.56 L1041.02,484.54 L1038.85,484.53 L1036.69,484.52 L1034.52,484.51 L1032.36,484.49 L1030.20,484.48 L1028.03,484.47 L1025.87,484.46 L1023.70,484.45 L1021.54,484.44 L1019.38,484.42 L1017.21,484.41 L1015.05,484.40 L1012.89,484.39 L1010.72,484.38 L1008.56,484.37 L1006.39,484.36 L1004.23,484.35 L1002.07,484.34 L999.90,484.33 L997.74,484.32 L995.58,484.31 L993.41,484.30 L991.25,484.29 L989.08,484.29 L986.92,484.28 L984.76,484.27 L982.59,484.26 L980.43,484.26 L978.26,484.25 L976.10,484.24 L973.94,484.24 L971.77,484.23 L969.61,484.22 L967.45,484.22 L965.28,484.21 L963.12,484.21 L960.95,484.20 L958.79,484.20" fill="none" stroke="#000000" stroke-width="6.8" stroke-dasharray="20.0 19.708"/><rect x="1053.76" y="472.20" width="25.0" height="25.0" fill="none" stroke="#000000" stroke-width="6.8"/><rect x="1161.23" y="473.30" width="25.0" height="25.0" fill="none" stroke="#000000" stroke-width="6.8"/><rect x="1268.70" y="474.50" width="25.0" height="25.0" fill="none" stroke="#000000" stroke-width="6.8"/><g clip-path="url(#ax)"><path d="M1012.53,915.81 L1013.06,914.18 L1013.60,912.56 L1014.14,910.94 L1014.67,909.33 L1015.21,907.72 L1015.75,906.11 L1016.29,904.51 L1016.82,902.92 L1017.36,901.33 L1017.90,899.75 L1018.44,898.17 L1018.97,896.59 L1019.51,895.02 L1020.05,893.46 L1020.59,891.90 L1021.12,890.34 L1021.66,888.79 L1022.20,887.25 L1022.73,885.71 L1023.27,884.17 L1023.81,882.64 L1024.35,881.12 L1024.88,879.60 L1025.42,878.09 L1025.96,876.58 L1026.50,875.08 L1027.03,873.58 L1027.57,872.09 L1028.11,870.60 L1028.65,869.12 L1029.18,867.64 L1029.72,866.17 L1030.26,864.71 L1030.79,863.25 L1031.33,861.79 L1031.87,860.34 L1032.41,858.90 L1032.94,857.46 L1033.48,856.03 L1034.02,854.60 L1034.56,853.18 L1035.09,851.76 L1035.63,850.35 L1036.17,848.95 L1036.71,847.55 L1037.24,846.16 L1037.78,844.77 L1038.32,843.39 L1038.86,842.01 L1039.39,840.64 L1039.93,839.28 L1040.47,837.92 L1041.00,836.57 L1041.54,835.22 L1042.08,833.88 L1042.62,832.54 L1043.15,831.21 L1043.69,829.89 L1044.23,828.57 L1044.77,827.26 L1045.30,825.96 L1045.84,824.66 L1046.38,823.36 L1046.92,822.08 L1047.45,820.80 L1047.99,819.52 L1048.53,818.25 L1049.06,816.99 L1049.60,815.73 L1050.14,814.48 L1050.68,813.24 L1051.21,812.00 L1051.75,810.77 L1052.29,809.54 L1052.83,808.32 L1053.36,807.11 L1053.90,805.90 L1054.44,804.70 L1054.98,803.51 L1055.51,802.32 L1056.05,801.14 L1056.59,799.97 L1057.13,798.80 L1057.66,797.64 L1058.20,796.48 L1058.74,795.33 L1059.27,794.19 L1059.81,793.06 L1060.35,791.93 L1060.89,790.81 L1061.42,789.69 L1061.96,788.58 L1062.50,787.48 L1063.04,786.38 L1063.57,785.29 L1064.11,784.21 L1064.65,783.14 L1065.19,782.07 L1065.72,781.01 L1066.26,779.95 L1066.80,778.90 L1067.33,777.85 L1067.87,776.80 L1068.41,775.75 L1068.95,774.71 L1069.48,773.66 L1070.02,772.62 L1070.56,771.58 L1071.10,770.54 L1071.63,769.50 L1072.17,768.46 L1072.71,767.42 L1073.25,766.39 L1073.78,765.35 L1074.32,764.32 L1074.86,763.29 L1075.39,762.26 L1075.93,761.24 L1076.47,760.21 L1077.01,759.19 L1077.54,758.17 L1078.08,757.14 L1078.62,756.13 L1079.16,755.11 L1079.69,754.09 L1080.23,753.08 L1080.77,752.07 L1081.31,751.06 L1081.84,750.05 L1082.38,749.04 L1082.92,748.04 L1083.46,747.04 L1083.99,746.04 L1084.53,745.04 L1085.07,744.04 L1085.60,743.05 L1086.14,742.05 L1086.68,741.06 L1087.22,740.07 L1087.75,739.09 L1088.29,738.10 L1088.83,737.12 L1089.37,736.14 L1089.90,735.16 L1090.44,734.19 L1090.98,733.21 L1091.52,732.24 L1092.05,731.27 L1092.59,730.30 L1093.13,729.34 L1093.66,728.38 L1094.20,727.42 L1094.74,726.46 L1095.28,725.50 L1095.81,724.55 L1096.35,723.60 L1096.89,722.65 L1097.43,721.71 L1097.96,720.76 L1098.50,719.82 L1099.04,718.89 L1099.58,717.95 L1100.11,717.02 L1100.65,716.09 L1101.19,715.16 L1101.73,714.23 L1102.26,713.31 L1102.80,712.39 L1103.34,711.47 L1103.87,710.56 L1104.41,709.65 L1104.95,708.74 L1105.49,707.83 L1106.02,706.93 L1106.56,706.03 L1107.10,705.13 L1107.64,704.24 L1108.17,703.35 L1108.71,702.46 L1109.25,701.57 L1109.79,700.69 L1110.32,699.81 L1110.86,698.93 L1111.40,698.06 L1111.93,697.19 L1112.47,696.32 L1113.01,695.46 L1113.55,694.59 L1114.08,693.74 L1114.62,692.88 L1115.16,692.03 L1115.70,691.18 L1116.23,690.33 L1116.77,689.49 L1117.31,688.65 L1117.85,687.82 L1118.38,686.98 L1118.92,686.15 L1119.46,685.33 L1119.99,684.51 L1120.53,683.69 L1121.07,682.87 L1121.61,682.06 L1122.14,681.25 L1122.68,680.45 L1123.22,679.64 L1123.76,678.85 L1124.29,678.05 L1124.83,677.26 L1125.37,676.47 L1125.91,675.69 L1126.44,674.91 L1126.98,674.13 L1127.52,673.36 L1128.06,672.59 L1128.59,671.83 L1129.13,671.07 L1129.67,670.31 L1130.20,669.55 L1130.74,668.80 L1131.28,668.06 L1131.82,667.31 L1132.35,666.58 L1132.89,665.84 L1133.43,665.11 L1133.97,664.38 L1134.50,663.66 L1135.04,662.94 L1135.58,662.23 L1136.12,661.52 L1136.65,660.81 L1137.19,660.11 L1137.73,659.41 L1138.26,658.71 L1138.80,658.02 L1139.34,657.34 L1139.88,656.66 L1140.41,655.98 L1140.95,655.31 L1141.49,654.64 L1142.03,653.97 L1142.56,653.31 L1143.10,652.65 L1143.64,652.00 L1144.18,651.35 L1144.71,650.71 L1145.25,650.07 L1145.79,649.44 L1146.33,648.81 L1146.86,648.18 L1147.40,647.56 L1147.94,646.95 L1148.47,646.33 L1149.01,645.73 L1149.55,645.12 L1150.09,644.53 L1150.62,643.93 L1151.16,643.34 L1151.70,642.76 L1152.24,642.18 L1152.77,641.60 L1153.31,641.03 L1153.85,640.47 L1154.39,639.91 L1154.92,639.35 L1155.46,638.80 L1156.00,638.26 L1156.53,637.72 L1157.07,637.18 L1157.61,636.65 L1158.15,636.12 L1158.68,635.60 L1159.22,635.08 L1159.76,634.57 L1160.30,634.07 L1160.83,633.56 L1161.37,633.07 L1161.91,632.58 L1162.45,632.09 L1162.98,631.61 L1163.52,631.13 L1164.06,630.66 L1164.60,630.20 L1165.13,629.74 L1165.67,629.28 L1166.21,628.83 L1166.74,628.39 L1167.28,627.95 L1167.82,627.51 L1168.36,627.09 L1168.89,626.66 L1169.43,626.25 L1169.97,625.83 L1170.51,625.43 L1171.04,625.02 L1171.58,624.63 L1172.12,624.24 L1172.66,623.85 L1173.19,623.47 L1173.73,623.10 L1174.27,622.73 L1174.80,622.36 L1175.34,621.99 L1175.88,621.62 L1176.42,621.25 L1176.95,620.88 L1177.49,620.51 L1178.03,620.14 L1178.57,619.77 L1179.10,619.40 L1179.64,619.03 L1180.18,618.66 L1180.72,618.29 L1181.25,617.93 L1181.79,617.56 L1182.33,617.19 L1182.86,616.83 L1183.40,616.46 L1183.94,616.09 L1184.48,615.73 L1185.01,615.36 L1185.55,615.00 L1186.09,614.64 L1186.63,614.27 L1187.16,613.91 L1187.70,613.55 L1188.24,613.19 L1188.78,612.83 L1189.31,612.47 L1189.85,612.11 L1190.39,611.75 L1190.93,611.39 L1191.46,611.03 L1192.00,610.67 L1192.54,610.32 L1193.07,609.96 L1193.61,609.61 L1194.15,609.25 L1194.69,608.90 L1195.22,608.55 L1195.76,608.20 L1196.30,607.84 L1196.84,607.49 L1197.37,607.15 L1197.91,606.80 L1198.45,606.45 L1198.99,606.10 L1199.52,605.76 L1200.06,605.41 L1200.60,605.07 L1201.13,604.73 L1201.67,604.39 L1202.21,604.05 L1202.75,603.71 L1203.28,603.37 L1203.82,603.03 L1204.36,602.70 L1204.90,602.36 L1205.43,602.03 L1205.97,601.69 L1206.51,601.36 L1207.05,601.03 L1207.58,600.70 L1208.12,600.37 L1208.66,600.05 L1209.20,599.72 L1209.73,599.40 L1210.27,599.08 L1210.81,598.75 L1211.34,598.43 L1211.88,598.11 L1212.42,597.80 L1212.96,597.48 L1213.49,597.17 L1214.03,596.85 L1214.57,596.54 L1215.11,596.23 L1215.64,595.92 L1216.18,595.61 L1216.72,595.31 L1217.26,595.00 L1217.79,594.70 L1218.33,594.40 L1218.87,594.10 L1219.40,593.80 L1219.94,593.50 L1220.48,593.21 L1221.02,592.91 L1221.55,592.62 L1222.09,592.33 L1222.63,592.04 L1223.17,591.76 L1223.70,591.47 L1224.24,591.19 L1224.78,590.91 L1225.32,590.63 L1225.85,590.35 L1226.39,590.07 L1226.93,589.80 L1227.47,589.52 L1228.00,589.25 L1228.54,588.98 L1229.08,588.72 L1229.61,588.45 L1230.15,588.19 L1230.69,587.93 L1231.23,587.67 L1231.76,587.41 L1232.30,587.16 L1232.84,586.90 L1233.38,586.65 L1233.91,586.40 L1234.45,586.15 L1234.99,585.91 L1235.53,585.67 L1236.06,585.43 L1236.60,585.19 L1237.14,584.95 L1237.67,584.72 L1238.21,584.48 L1238.75,584.25 L1239.29,584.03 L1239.82,583.80 L1240.36,583.58 L1240.90,583.36 L1241.44,583.14 L1241.97,582.92 L1242.51,582.71 L1243.05,582.49 L1243.59,582.28 L1244.12,582.08 L1244.66,581.87 L1245.20,581.67 L1245.73,581.47 L1246.27,581.27 L1246.81,581.08 L1247.35,580.89 L1247.88,580.70 L1248.42,580.51 L1248.96,580.32 L1249.50,580.14 L1250.03,579.96 L1250.57,579.78 L1251.11,579.61 L1251.65,579.44 L1252.18,579.27 L1252.72,579.10 L1253.26,578.94 L1253.80,578.77 L1254.33,578.62 L1254.87,578.46 L1255.41,578.31 L1255.94,578.16 L1256.48,578.01 L1257.02,577.86 L1257.56,577.72 L1258.09,577.58 L1258.63,577.44 L1259.17,577.31 L1259.71,577.18 L1260.24,577.05 L1260.78,576.93 L1261.32,576.80 L1261.86,576.69 L1262.39,576.57 L1262.93,576.46 L1263.47,576.35 L1264.00,576.24 L1264.54,576.13 L1265.08,576.03 L1265.62,575.94 L1266.15,575.84 L1266.69,575.75 L1267.23,575.66 L1267.77,575.57 L1268.30,575.49 L1268.84,575.41 L1269.38,575.34 L1269.92,575.26 L1270.45,575.19 L1270.99,575.13 L1271.53,575.06 L1272.07,575.00 L1272.60,574.95 L1273.14,574.89 L1273.68,574.84 L1274.21,574.80 L1274.75,574.75 L1275.29,574.71 L1275.83,574.68 L1276.36,574.64 L1276.90,574.61 L1277.44,574.59 L1277.98,574.56 L1278.51,574.54 L1279.05,574.53 L1279.59,574.52 L1280.13,574.51 L1280.66,574.50 L1281.20,574.50" fill="none" stroke="#000000" stroke-width="6.8" stroke-linejoin="round"/></g><circle cx="1066.26" cy="779.95" r="15.5" fill="none" stroke="#000000" stroke-width="6.8"/><circle cx="1173.73" cy="623.10" r="15.5" fill="none" stroke="#000000" stroke-width="6.8"/><circle cx="1281.20" cy="574.50" r="15.5" fill="none" stroke="#000000" stroke-width="6.8"/><path d="M1281.20,691.00 L1278.51,691.01 L1275.81,691.02 L1273.12,691.03 L1270.43,691.04 L1267.73,691.05 L1265.04,691.06 L1262.35,691.07 L1259.65,691.08 L1256.96,691.09 L1254.27,691.10 L1251.57,691.11 L1248.88,691.12 L1246.18,691.13 L1243.49,691.14 L1240.80,691.15 L1238.10,691.16 L1235.41,691.17 L1232.72,691.18 L1230.02,691.19 L1227.33,691.20 L1224.64,691.21 L1221.94,691.22 L1219.25,691.23 L1216.56,691.24 L1213.86,691.25 L1211.17,691.26 L1208.48,691.27 L1205.78,691.28 L1203.09,691.29 L1200.40,691.30 L1197.70,691.31 L1195.01,691.32 L1192.32,691.33 L1189.62,691.34 L1186.93,691.35 L1184.23,691.36 L1181.54,691.37 L1178.85,691.38 L1176.15,691.39 L1173.46,691.40 L1170.77,691.41 L1168.07,691.42 L1165.38,691.43 L1162.69,691.44 L1159.99,691.45 L1157.30,691.46 L1154.61,691.47 L1151.91,691.48 L1149.22,691.49 L1146.53,691.50 L1143.83,691.51 L1141.14,691.52 L1138.45,691.54 L1135.75,691.55 L1133.06,691.56 L1130.36,691.57 L1127.67,691.58 L1124.98,691.59 L1122.28,691.60 L1119.59,691.61 L1116.90,691.62 L1114.20,691.63 L1111.51,691.64 L1108.82,691.65 L1106.12,691.66 L1103.43,691.67 L1100.74,691.68 L1098.04,691.69 L1095.35,691.70 L1092.66,691.71 L1089.96,691.72 L1087.27,691.73 L1084.58,691.74 L1081.88,691.75 L1079.19,691.76 L1076.50,691.77 L1073.80,691.78 L1071.11,691.78 L1068.41,691.79 L1065.72,691.80 L1063.03,691.81 L1060.33,691.82 L1057.64,691.83 L1054.95,691.83 L1052.25,691.84 L1049.56,691.85 L1046.87,691.86 L1044.17,691.87 L1041.48,691.87 L1038.79,691.88 L1036.09,691.89 L1033.40,691.90 L1030.71,691.90 L1028.01,691.91 L1025.32,691.92 L1022.63,691.92 L1019.93,691.93 L1017.24,691.94 L1014.55,691.94 L1011.85,691.95 L1009.16,691.96 L1006.46,691.97 L1003.77,691.97 L1001.08,691.98 L998.38,691.99 L995.69,691.99 L993.00,692.00 L990.30,692.01 L987.61,692.02 L984.92,692.02 L982.22,692.03 L979.53,692.04 L976.84,692.05 L974.14,692.05 L971.45,692.06 L968.76,692.07 L966.06,692.08 L963.37,692.09 L960.68,692.09 L957.98,692.10 L955.29,692.11 L952.59,692.12 L949.90,692.13 L947.21,692.14 L944.51,692.15 L941.82,692.16 L939.13,692.17 L936.43,692.18 L933.74,692.19 L931.05,692.20 L928.35,692.21 L925.66,692.22 L922.97,692.23 L920.27,692.24 L917.58,692.25 L914.89,692.26 L912.19,692.27 L909.50,692.28 L906.81,692.29 L904.11,692.30 L901.42,692.31 L898.73,692.33 L896.03,692.34 L893.34,692.35 L890.64,692.36 L887.95,692.37 L885.26,692.38 L882.56,692.39 L879.87,692.40 L877.18,692.41 L874.48,692.42 L871.79,692.43 L869.10,692.44 L866.40,692.45 L863.71,692.46 L861.02,692.47 L858.32,692.48 L855.63,692.49 L852.94,692.49 L850.24,692.50 L847.55,692.51 L844.86,692.52 L842.16,692.53 L839.47,692.54 L836.78,692.54 L834.08,692.55 L831.39,692.56 L828.69,692.57 L826.00,692.57 L823.31,692.58 L820.61,692.59 L817.92,692.60 L815.23,692.60 L812.53,692.61 L809.84,692.62 L807.15,692.63 L804.45,692.63 L801.76,692.64 L799.07,692.65 L796.37,692.65 L793.68,692.66 L790.99,692.67 L788.29,692.67 L785.60,692.68 L782.91,692.69 L780.21,692.70 L777.52,692.70 L774.83,692.71 L772.13,692.72 L769.44,692.72 L766.74,692.73 L764.05,692.74 L761.36,692.75 L758.66,692.75 L755.97,692.76 L753.28,692.77 L750.58,692.78 L747.89,692.79 L745.20,692.80 L742.50,692.80 L739.81,692.81 L737.12,692.82 L734.42,692.83 L731.73,692.84 L729.04,692.85 L726.34,692.86 L723.65,692.87 L720.96,692.88 L718.26,692.89 L715.57,692.90 L712.87,692.91 L710.18,692.92 L707.49,692.93 L704.79,692.94 L702.10,692.95 L699.41,692.96 L696.71,692.97 L694.02,692.98 L691.33,692.99 L688.63,693.00 L685.94,693.01 L683.25,693.02 L680.55,693.03 L677.86,693.04 L675.17,693.05 L672.47,693.06 L669.78,693.07 L667.09,693.08 L664.39,693.09 L661.70,693.10 L659.01,693.11 L656.31,693.12 L653.62,693.13 L650.92,693.14 L648.23,693.16 L645.54,693.17 L642.84,693.18 L640.15,693.19 L637.46,693.20 L634.76,693.21 L632.07,693.22 L629.38,693.23 L626.68,693.24 L623.99,693.25 L621.30,693.26 L618.60,693.27 L615.91,693.28 L613.22,693.29 L610.52,693.30 L607.83,693.31 L605.14,693.32 L602.44,693.33 L599.75,693.34 L597.06,693.35 L594.36,693.36 L591.67,693.37 L588.97,693.38 L586.28,693.39 L583.59,693.40 L580.89,693.41 L578.20,693.42 L575.51,693.43 L572.81,693.44 L570.12,693.45 L567.43,693.46 L564.73,693.47 L562.04,693.48 L559.35,693.49 L556.65,693.50 L553.96,693.51 L551.27,693.52 L548.57,693.53 L545.88,693.54 L543.19,693.55 L540.49,693.56 L537.80,693.57 L535.11,693.58 L532.41,693.59 L529.72,693.60 L527.02,693.61 L524.33,693.62 L521.64,693.63 L518.94,693.64 L516.25,693.65 L513.56,693.66 L510.86,693.67 L508.17,693.68 L505.48,693.69 L502.78,693.70 L500.09,693.71 L497.40,693.73 L494.70,693.74 L492.01,693.75 L489.32,693.76 L486.62,693.77 L483.93,693.78 L481.24,693.79 L478.54,693.80 L475.85,693.81 L473.15,693.82 L470.46,693.84 L467.77,693.85 L465.07,693.86 L462.38,693.87 L459.69,693.88 L456.99,693.89 L454.30,693.90 L451.61,693.91 L448.91,693.92 L446.22,693.93 L443.53,693.94 L440.83,693.94 L438.14,693.95 L435.45,693.96 L432.75,693.97 L430.06,693.98 L427.37,693.98 L424.67,693.99 L421.98,694.00 L419.29,694.01 L416.59,694.01 L413.90,694.02 L411.20,694.02 L408.51,694.03 L405.82,694.04 L403.12,694.04 L400.43,694.05 L397.74,694.05 L395.04,694.06 L392.35,694.06 L389.66,694.07 L386.96,694.07 L384.27,694.08 L381.58,694.08 L378.88,694.09 L376.19,694.09 L373.50,694.09 L370.80,694.10 L368.11,694.10 L365.42,694.11 L362.72,694.11 L360.03,694.12 L357.34,694.12 L354.64,694.12 L351.95,694.13 L349.25,694.13 L346.56,694.14 L343.87,694.14 L341.17,694.15 L338.48,694.15 L335.79,694.16 L333.09,694.16 L330.40,694.17 L327.71,694.17 L325.01,694.18 L322.32,694.18 L319.63,694.19 L316.93,694.19 L314.24,694.20 L311.55,694.21 L308.85,694.21 L306.16,694.22 L303.47,694.22 L300.77,694.23 L298.08,694.24 L295.38,694.24 L292.69,694.25 L290.00,694.26 L287.30,694.26 L284.61,694.27 L281.92,694.28 L279.22,694.28 L276.53,694.29 L273.84,694.30 L271.14,694.31 L268.45,694.31 L265.76,694.32 L263.06,694.33 L260.37,694.34 L257.68,694.34 L254.98,694.35 L252.29,694.36 L249.60,694.37 L246.90,694.37 L244.21,694.38 L241.52,694.39 L238.82,694.40 L236.13,694.41 L233.43,694.41 L230.74,694.42 L228.05,694.43 L225.35,694.44 L222.66,694.45 L219.97,694.46 L217.27,694.47 L214.58,694.47 L211.89,694.48 L209.19,694.49 L206.50,694.50" fill="none" stroke="#0000ff" stroke-width="6.8" stroke-dasharray="20.0 19.708"/><rect x="301.47" y="681.70" width="25.0" height="25.0" fill="none" stroke="#0000ff" stroke-width="6.8"/><rect x="408.94" y="681.50" width="25.0" height="25.0" fill="none" stroke="#0000ff" stroke-width="6.8"/><rect x="516.41" y="681.10" width="25.0" height="25.0" fill="none" stroke="#0000ff" stroke-width="6.8"/><rect x="623.88" y="680.70" width="25.0" height="25.0" fill="none" stroke="#0000ff" stroke-width="6.8"/><rect x="731.35" y="680.30" width="25.0" height="25.0" fill="none" stroke="#0000ff" stroke-width="6.8"/><rect x="838.82" y="680.00" width="25.0" height="25.0" fill="none" stroke="#0000ff" stroke-width="6.8"/><rect x="946.29" y="679.60" width="25.0" height="25.0" fill="none" stroke="#0000ff" stroke-width="6.8"/><rect x="1053.76" y="679.30" width="25.0" height="25.0" fill="none" stroke="#0000ff" stroke-width="6.8"/><rect x="1161.23" y="678.90" width="25.0" height="25.0" fill="none" stroke="#0000ff" stroke-width="6.8"/><rect x="1268.70" y="678.50" width="25.0" height="25.0" fill="none" stroke="#0000ff" stroke-width="6.8"/><path d="M206.50,792.30 L208.65,791.38 L210.80,790.47 L212.95,789.55 L215.10,788.64 L217.25,787.73 L219.40,786.82 L221.55,785.91 L223.70,785.01 L225.84,784.10 L227.99,783.20 L230.14,782.30 L232.29,781.40 L234.44,780.51 L236.59,779.61 L238.74,778.72 L240.89,777.83 L243.04,776.94 L245.19,776.05 L247.34,775.17 L249.49,774.28 L251.64,773.40 L253.79,772.52 L255.94,771.64 L258.09,770.77 L260.24,769.90 L262.38,769.02 L264.53,768.15 L266.68,767.29 L268.83,766.42 L270.98,765.56 L273.13,764.69 L275.28,763.83 L277.43,762.98 L279.58,762.12 L281.73,761.27 L283.88,760.41 L286.03,759.56 L288.18,758.72 L290.33,757.87 L292.48,757.03 L294.63,756.18 L296.77,755.35 L298.92,754.51 L301.07,753.67 L303.22,752.84 L305.37,752.01 L307.52,751.18 L309.67,750.35 L311.82,749.52 L313.97,748.70 L316.12,747.88 L318.27,747.06 L320.42,746.25 L322.57,745.43 L324.72,744.62 L326.87,743.82 L329.02,743.01 L331.17,742.21 L333.31,741.41 L335.46,740.61 L337.61,739.81 L339.76,739.02 L341.91,738.23 L344.06,737.44 L346.21,736.65 L348.36,735.87 L350.51,735.08 L352.66,734.30 L354.81,733.52 L356.96,732.74 L359.11,731.97 L361.26,731.19 L363.41,730.42 L365.56,729.64 L367.71,728.87 L369.85,728.10 L372.00,727.33 L374.15,726.56 L376.30,725.80 L378.45,725.03 L380.60,724.26 L382.75,723.50 L384.90,722.74 L387.05,721.97 L389.20,721.21 L391.35,720.45 L393.50,719.69 L395.65,718.93 L397.80,718.17 L399.95,717.40 L402.10,716.64 L404.24,715.88 L406.39,715.12 L408.54,714.36 L410.69,713.60 L412.84,712.84 L414.99,712.08 L417.14,711.32 L419.29,710.56 L421.44,709.80 L423.59,709.04 L425.74,708.28 L427.89,707.52 L430.04,706.76 L432.19,706.00 L434.34,705.24 L436.49,704.48 L438.64,703.72 L440.78,702.97 L442.93,702.21 L445.08,701.45 L447.23,700.70 L449.38,699.94 L451.53,699.19 L453.68,698.44 L455.83,697.68 L457.98,696.93 L460.13,696.18 L462.28,695.43 L464.43,694.68 L466.58,693.93 L468.73,693.18 L470.88,692.43 L473.03,691.68 L475.18,690.94 L477.32,690.19 L479.47,689.44 L481.62,688.70 L483.77,687.96 L485.92,687.21 L488.07,686.47 L490.22,685.73 L492.37,684.99 L494.52,684.25 L496.67,683.51 L498.82,682.77 L500.97,682.03 L503.12,681.29 L505.27,680.55 L507.42,679.82 L509.57,679.08 L511.71,678.35 L513.86,677.61 L516.01,676.88 L518.16,676.15 L520.31,675.42 L522.46,674.69 L524.61,673.96 L526.76,673.23 L528.91,672.50 L531.06,671.77 L533.21,671.05 L535.36,670.32 L537.51,669.59 L539.66,668.87 L541.81,668.14 L543.96,667.42 L546.11,666.69 L548.25,665.97 L550.40,665.25 L552.55,664.52 L554.70,663.80 L556.85,663.08 L559.00,662.36 L561.15,661.64 L563.30,660.92 L565.45,660.20 L567.60,659.48 L569.75,658.77 L571.90,658.05 L574.05,657.33 L576.20,656.62 L578.35,655.90 L580.50,655.19 L582.64,654.48 L584.79,653.77 L586.94,653.06 L589.09,652.35 L591.24,651.64 L593.39,650.93 L595.54,650.22 L597.69,649.52 L599.84,648.81 L601.99,648.11 L604.14,647.40 L606.29,646.70 L608.44,646.00 L610.59,645.30 L612.74,644.60 L614.89,643.91 L617.04,643.21 L619.18,642.51 L621.33,641.82 L623.48,641.13 L625.63,640.44 L627.78,639.75 L629.93,639.06 L632.08,638.37 L634.23,637.68 L636.38,637.00 L638.53,636.32 L640.68,635.63 L642.83,634.95 L644.98,634.27 L647.13,633.59 L649.28,632.92 L651.43,632.24 L653.58,631.57 L655.72,630.89 L657.87,630.22 L660.02,629.55 L662.17,628.87 L664.32,628.20 L666.47,627.54 L668.62,626.87 L670.77,626.20 L672.92,625.54 L675.07,624.87 L677.22,624.21 L679.37,623.54 L681.52,622.88 L683.67,622.22 L685.82,621.56 L687.97,620.90 L690.12,620.24 L692.26,619.58 L694.41,618.93 L696.56,618.27 L698.71,617.61 L700.86,616.96 L703.01,616.30 L705.16,615.65 L707.31,615.00 L709.46,614.35 L711.61,613.70 L713.76,613.05 L715.91,612.40 L718.06,611.75 L720.21,611.10 L722.36,610.45 L724.51,609.80 L726.65,609.16 L728.80,608.51 L730.95,607.86 L733.10,607.22 L735.25,606.57 L737.40,605.93 L739.55,605.29 L741.70,604.64 L743.85,604.00 L746.00,603.36 L748.15,602.72 L750.30,602.08 L752.45,601.44 L754.60,600.80 L756.75,600.16 L758.90,599.52 L761.05,598.89 L763.19,598.25 L765.34,597.62 L767.49,596.99 L769.64,596.35 L771.79,595.72 L773.94,595.09 L776.09,594.46 L778.24,593.83 L780.39,593.20 L782.54,592.57 L784.69,591.94 L786.84,591.32 L788.99,590.69 L791.14,590.06 L793.29,589.44 L795.44,588.81 L797.59,588.19 L799.73,587.57 L801.88,586.94 L804.03,586.32 L806.18,585.70 L808.33,585.07 L810.48,584.45 L812.63,583.83 L814.78,583.21 L816.93,582.59 L819.08,581.97 L821.23,581.35 L823.38,580.73 L825.53,580.11 L827.68,579.49 L829.83,578.88 L831.98,578.26 L834.12,577.64 L836.27,577.02 L838.42,576.40 L840.57,575.79 L842.72,575.17 L844.87,574.55 L847.02,573.93 L849.17,573.32 L851.32,572.70 L853.47,572.08 L855.62,571.47 L857.77,570.85 L859.92,570.23 L862.07,569.62 L864.22,569.00 L866.37,568.38 L868.52,567.77 L870.66,567.15 L872.81,566.54 L874.96,565.92 L877.11,565.30 L879.26,564.69 L881.41,564.07 L883.56,563.46 L885.71,562.85 L887.86,562.23 L890.01,561.62 L892.16,561.00 L894.31,560.39 L896.46,559.78 L898.61,559.17 L900.76,558.56 L902.91,557.95 L905.06,557.34 L907.20,556.73 L909.35,556.12 L911.50,555.51 L913.65,554.90 L915.80,554.29 L917.95,553.68 L920.10,553.08 L922.25,552.47 L924.40,551.87 L926.55,551.26 L928.70,550.66 L930.85,550.06 L933.00,549.46 L935.15,548.85 L937.30,548.25 L939.45,547.65 L941.59,547.06 L943.74,546.46 L945.89,545.86 L948.04,545.27 L950.19,544.67 L952.34,544.08 L954.49,543.48 L956.64,542.89 L958.79,542.30 L960.94,541.71 L963.09,541.12 L965.24,540.53 L967.39,539.95 L969.54,539.36 L971.69,538.78 L973.84,538.20 L975.99,537.61 L978.13,537.03 L980.28,536.45 L982.43,535.88 L984.58,535.30 L986.73,534.72 L988.88,534.14 L991.03,533.57 L993.18,532.99 L995.33,532.42 L997.48,531.85 L999.63,531.27 L1001.78,530.70 L1003.93,530.13 L1006.08,529.56 L1008.23,528.99 L1010.38,528.42 L1012.53,527.85 L1014.67,527.28 L1016.82,526.71 L1018.97,526.14 L1021.12,525.57 L1023.27,525.00 L1025.42,524.43 L1027.57,523.86 L1029.72,523.30 L1031.87,522.73 L1034.02,522.16 L1036.17,521.59 L1038.32,521.02 L1040.47,520.45 L1042.62,519.88 L1044.77,519.31 L1046.92,518.74 L1049.06,518.17 L1051.21,517.60 L1053.36,517.03 L1055.51,516.46 L1057.66,515.89 L1059.81,515.32 L1061.96,514.75 L1064.11,514.17 L1066.26,513.60 L1068.41,513.03 L1070.56,512.45 L1072.71,511.87 L1074.86,511.30 L1077.01,510.72 L1079.16,510.14 L1081.31,509.56 L1083.46,508.98 L1085.60,508.40 L1087.75,507.82 L1089.90,507.24 L1092.05,506.66 L1094.20,506.08 L1096.35,505.50 L1098.50,504.91 L1100.65,504.33 L1102.80,503.75 L1104.95,503.17 L1107.10,502.59 L1109.25,502.00 L1111.40,501.42 L1113.55,500.84 L1115.70,500.26 L1117.85,499.68 L1119.99,499.10 L1122.14,498.52 L1124.29,497.94 L1126.44,497.36 L1128.59,496.78 L1130.74,496.21 L1132.89,495.63 L1135.04,495.06 L1137.19,494.48 L1139.34,493.91 L1141.49,493.33 L1143.64,492.76 L1145.79,492.19 L1147.94,491.62 L1150.09,491.05 L1152.24,490.49 L1154.39,489.92 L1156.53,489.36 L1158.68,488.79 L1160.83,488.23 L1162.98,487.67 L1165.13,487.11 L1167.28,486.56 L1169.43,486.00 L1171.58,485.45 L1173.73,484.90 L1175.88,484.35 L1178.03,483.80 L1180.18,483.25 L1182.33,482.71 L1184.48,482.16 L1186.63,481.62 L1188.78,481.07 L1190.93,480.53 L1193.07,479.98 L1195.22,479.44 L1197.37,478.90 L1199.52,478.36 L1201.67,477.82 L1203.82,477.28 L1205.97,476.75 L1208.12,476.21 L1210.27,475.67 L1212.42,475.14 L1214.57,474.60 L1216.72,474.07 L1218.87,473.54 L1221.02,473.01 L1223.17,472.48 L1225.32,471.95 L1227.47,471.42 L1229.61,470.89 L1231.76,470.36 L1233.91,469.84 L1236.06,469.31 L1238.21,468.79 L1240.36,468.27 L1242.51,467.74 L1244.66,467.22 L1246.81,466.70 L1248.96,466.18 L1251.11,465.66 L1253.26,465.15 L1255.41,464.63 L1257.56,464.11 L1259.71,463.60 L1261.86,463.08 L1264.00,462.57 L1266.15,462.06 L1268.30,461.55 L1270.45,461.04 L1272.60,460.53 L1274.75,460.02 L1276.90,459.51 L1279.05,459.01 L1281.20,458.50" fill="none" stroke="#0000ff" stroke-width="6.8" stroke-linejoin="round"/><circle cx="313.97" cy="748.70" r="15.5" fill="none" stroke="#0000ff" stroke-width="6.8"/><circle cx="421.44" cy="709.80" r="15.5" fill="none" stroke="#0000ff" stroke-width="6.8"/><circle cx="528.91" cy="672.50" r="15.5" fill="none" stroke="#0000ff" stroke-width="6.8"/><circle cx="636.38" cy="637.00" r="15.5" fill="none" stroke="#0000ff" stroke-width="6.8"/><circle cx="743.85" cy="604.00" r="15.5" fill="none" stroke="#0000ff" stroke-width="6.8"/><circle cx="851.32" cy="572.70" r="15.5" fill="none" stroke="#0000ff" stroke-width="6.8"/><circle cx="958.79" cy="542.30" r="15.5" fill="none" stroke="#0000ff" stroke-width="6.8"/><circle cx="1066.26" cy="513.60" r="15.5" fill="none" stroke="#0000ff" stroke-width="6.8"/><circle cx="1173.73" cy="484.90" r="15.5" fill="none" stroke="#0000ff" stroke-width="6.8"/><circle cx="1281.20" cy="458.50" r="15.5" fill="none" stroke="#0000ff" stroke-width="6.8"/>
<g transform="translate(77.65,45.15)"><g transform="scale(1,1.035)"><text x="0" y="0" style="font-family:'Liberation Sans',sans-serif;font-weight:bold;font-size:62.6px" fill="#262626" >0.6</text></g></g><g transform="translate(76.65,301.45)"><g transform="scale(1,1.035)"><text x="0" y="0" style="font-family:'Liberation Sans',sans-serif;font-weight:bold;font-size:62.6px" fill="#262626" >0.4</text></g></g><g transform="translate(77.35,557.70)"><g transform="scale(1,1.035)"><text x="0" y="0" style="font-family:'Liberation Sans',sans-serif;font-weight:bold;font-size:62.6px" fill="#262626" >0.2</text></g></g><g transform="translate(142.85,814.40)"><g transform="scale(1,1.035)"><text x="0" y="0" style="font-family:'Liberation Sans',sans-serif;font-weight:bold;font-size:62.6px" fill="#262626" >0</text></g></g><g transform="translate(184.20,869.40)"><g transform="scale(1,1.035)"><text x="0" y="0" style="font-family:'Liberation Sans',sans-serif;font-weight:bold;font-size:62.6px" fill="#262626" >0</text></g></g><g transform="translate(688.20,869.45)"><g transform="scale(1,1.035)"><text x="0" y="0" style="font-family:'Liberation Sans',sans-serif;font-weight:bold;font-size:62.6px" fill="#262626" >0.5</text></g></g><g transform="translate(1263.05,868.00)"><path d="M10.10,0 L18.70,0 L18.70,-43.00 L12.00,-43.00 C11.20,-39.50 9.00,-36.50 6.00,-36.30 L0,-35.70 L0,-30.00 L10.10,-30.00 Z" fill="#262626"/></g><g transform="translate(686.95,971.15)"><text x="0" y="0" style="font-family:'Liberation Sans',sans-serif;font-weight:bold;font-size:69.0px" fill="#262626" >f</text></g><g transform="translate(50.1,0) rotate(-90) translate(-679.20,0)"><text x="0" y="0" style="font-family:'Liberation Sans',sans-serif;font-weight:bold;font-size:69.0px" fill="#262626" >[</text></g><g transform="translate(50.1,0) rotate(-90) translate(-652.05,0)"><path d="M11.13,0 L20.61,0 L20.61,-47.40 L13.23,-47.40 C12.35,-43.54 9.92,-40.23 6.61,-40.01 L0,-39.35 L0,-33.07 L11.13,-33.07 Z" fill="#262626"/></g><g transform="translate(50.1,0) rotate(-90) translate(-619.85,0)"><text x="0" y="0" style="font-family:'Liberation Sans',sans-serif;font-weight:bold;font-size:69.0px" fill="#262626" >0</text></g><g transform="translate(50.1,0) rotate(-90) translate(-480.20,0)"><text x="0" y="0" style="font-family:'Liberation Sans',sans-serif;font-weight:bold;font-size:69.0px" fill="#262626" >s</text></g><g transform="translate(50.1,0) rotate(-90) translate(-441.75,0)"><text x="0" y="0" style="font-family:'Liberation Sans',sans-serif;font-weight:bold;font-size:69.0px" fill="#262626" >]</text></g><g transform="translate(50.1,0) rotate(-90) translate(-420.35,0)"><text x="0" y="0" style="font-family:'Liberation Sans',sans-serif;font-weight:bold;font-size:69.0px" fill="#262626" >,</text></g><g transform="translate(50.1,0) rotate(-90) translate(-382.70,0)"><text x="0" y="0" style="font-family:'Liberation Sans',sans-serif;font-weight:bold;font-size:69.0px" fill="#262626" >f</text></g><g transform="translate(50.1,0) rotate(-90) translate(-341.30,0)"><text x="0" y="0" style="font-family:'Liberation Sans',sans-serif;font-weight:bold;font-size:69.0px" fill="#262626" >[</text></g><g transform="translate(50.1,0) rotate(-90) translate(-318.55,0)"><text x="0" y="0" style="font-family:'Liberation Sans',sans-serif;font-weight:bold;font-size:69.0px" fill="#262626" >M</text></g><g transform="translate(50.1,0) rotate(-90) translate(-260.85,0)"><text x="0" y="0" style="font-family:'Liberation Sans',sans-serif;font-weight:bold;font-size:69.0px" fill="#262626" >H</text></g><g transform="translate(50.1,0) rotate(-90) translate(-213.05,0)"><text x="0" y="0" style="font-family:'Liberation Sans',sans-serif;font-weight:bold;font-size:69.0px" fill="#262626" >z</text></g><g transform="translate(50.1,0) rotate(-90) translate(-179.00,0)"><text x="0" y="0" style="font-family:'Liberation Sans',sans-serif;font-weight:bold;font-size:69.0px" fill="#262626" >]</text></g><path d="M21.3,505.5 L64.3,516.3" stroke="#262626" stroke-width="6.2" fill="none"/><path d="M21.3,487.2 L46.0,492.7" stroke="#262626" stroke-width="6.0" fill="none"/><path d="M43.5,494.0 C47.6,495.2 50.0,498.0 50.0,502.0 C50.0,505.4 47.8,507.5 43.5,508.0" stroke="#262626" stroke-width="2.6" fill="none"/><path d="M40.2,482.7 C44.8,483.2 48.9,484.6 49.9,487.6 C50.6,490.3 49.7,492.8 48.0,494.6" stroke="#262626" stroke-width="3.4" fill="none"/><path d="M50.1,577.3 L50.1,584.8 L-2,565.6 L-2,557.4 Z" fill="#262626"/><path d="M21.4,698.3 C33,703.6 45,708.6 63.2,713.1" fill="none" stroke="#262626" stroke-width="4.4"/><path d="M47.8,709.3 C40,708.9 31.5,709.3 26.6,712.7 C22.3,716.2 21.9,722.0 24.2,725.4 C26.2,728.6 29.6,730.8 33.2,731.9" fill="none" stroke="#262626" stroke-width="4.4"/><path fill-rule="evenodd" fill="#262626" d="M722,938.7 V899.3 H742 C749.5,899.3 753.9,903.5 753.9,910.3 C753.9,915.2 751.5,918.8 748,920.3 C751.5,921.8 752.6,924.5 752.9,929 L753.2,935.5 C753.3,937 753.8,937.8 755,938.2 V938.7 H745.2 C744.8,937.6 744.6,935.8 744.5,933.5 L744.3,929.5 C744.1,925.3 742.5,923 738,923 H730 V938.7 Z M730,906.4 H740 C744,906.4 746,908.3 746,911.5 C746,914.7 744,916.5 740,916.5 H730 Z"/><path fill="#262626" d="M761.1,899.3 H789.7 V906.4 H769.1 V915 H787.8 V921.5 H769.1 V931.9 H790.6 V938.7 H761.1 Z"/><path fill="#262626" d="M722,964.2 H750.6 V970.9 H730 V979.2 H748.8 V985.7 H730 V996.2 H751.7 V1002.9 H722 Z"/><path fill-rule="evenodd" fill="#262626" d="M756.50,983.55 A18.6,20.65 0 1 0 793.70,983.55 A18.6,20.65 0 1 0 756.50,983.55 Z M764.50,983.70 A10.6,14.0 0 1 0 785.70,983.70 A10.6,14.0 0 1 0 764.50,983.70 Z "/><path fill="#262626" d="M776.2,992.2 L779.8,988.5 L793.7,1001.4 L789.4,1005.7 Z"/><g transform="translate(831.45,94.0)"><path d="M17.3,-27.6 C15.7,-30.1 13.4,-31.2 10.3,-31.2 C6.3,-31.2 3.3,-28.6 3.3,-24.8 C3.3,-20.4 7.1,-18.9 10.4,-17.5 C14.4,-15.9 17.3,-13.8 17.3,-9.3 C17.3,-5.2 14.2,-2.6 10.1,-2.6 C6.7,-2.6 4.1,-4.3 2.6,-7.3" fill="none" stroke="#7030a0" stroke-width="6.2"/></g><g transform="translate(855.85,94.0)"><ellipse cx="12.95" cy="-12.6" rx="9.85" ry="10.0" fill="none" stroke="#7030a0" stroke-width="6.2"/></g><g transform="translate(886.25,94.0)"><path d="M2.8,-34 V0" fill="none" stroke="#7030a0" stroke-width="5.6"/></g><g transform="translate(896.55,94.0)"><path d="M2.95,-24.9 V0" fill="none" stroke="#7030a0" stroke-width="5.9"/><circle cx="2.95" cy="-30.7" r="3.8" fill="#7030a0"/></g><g transform="translate(907.42,94.0)"><ellipse cx="12.0" cy="-12.6" rx="8.9" ry="10.0" fill="none" stroke="#7030a0" stroke-width="6.2"/><path d="M22.6,-34 V0" fill="none" stroke="#7030a0" stroke-width="6.2"/></g><g transform="translate(938.10,94.0)"><circle cx="3.75" cy="-21.7" r="3.75" fill="#7030a0"/><circle cx="3.75" cy="-3.5" r="3.75" fill="#7030a0"/></g><g transform="translate(963.20,94.0)"><ellipse cx="12.35" cy="-12.6" rx="9.2" ry="10.0" fill="none" stroke="#7030a0" stroke-width="6.2"/><path d="M22.1,-24.9 V1.5 C22.1,5.2 18.5,6.3 12.5,6.3 C7.6,6.3 4.6,5.0 2.6,2.4" fill="none" stroke="#7030a0" stroke-width="5.9"/></g><g transform="translate(992.60,94.0)"><path d="M3.2,-24.9 V0" fill="none" stroke="#7030a0" stroke-width="6.4"/><path d="M3.2,-15.5 C4.4,-20.6 7.6,-22.2 12.9,-22.2" fill="none" stroke="#7030a0" stroke-width="5.6"/></g><g transform="translate(1007.15,94.0)"><ellipse cx="12.95" cy="-12.6" rx="9.85" ry="10.0" fill="none" stroke="#7030a0" stroke-width="6.2"/></g><g transform="translate(1035.62,94.0)"><path d="M0,-24.9 L6.2,-24.9 L10.55,-7.44 L17,-24.9 L21.9,-24.9 L25.39,-9.1 L29.7,-24.9 L35.3,-24.9 L27.4,0 L22.9,0 L18.88,-16.98 L12.4,0 L7.8,0 Z" fill="#7030a0" fill-rule="evenodd"/></g><g transform="translate(1072.25,94.0)"><path d="M6.3,-34 V0" fill="none" stroke="#7030a0" stroke-width="6.0"/><path d="M0,-22.3 H12.6" fill="none" stroke="#7030a0" stroke-width="5.5"/></g><g transform="translate(1088.28,94.0)"><path d="M2.95,-34 V0" fill="none" stroke="#7030a0" stroke-width="5.9"/><path d="M2.95,-13.5 C3.0,-19.3 6.5,-21.9 10.6,-21.9 C15.4,-21.9 18.3,-19.3 18.3,-13.5 V0" fill="none" stroke="#7030a0" stroke-width="6.0"/></g><g transform="translate(1126.00,94.0)"><path d="M3.2,-24.9 V0" fill="none" stroke="#7030a0" stroke-width="6.4"/><path d="M3.2,-15.5 C4.4,-20.6 7.6,-22.2 12.9,-22.2" fill="none" stroke="#7030a0" stroke-width="5.6"/></g><g transform="translate(1141.22,94.0)"><ellipse cx="12.0" cy="-12.6" rx="8.9" ry="10.0" fill="none" stroke="#7030a0" stroke-width="6.2"/><path d="M22.3,-24.9 V0" fill="none" stroke="#7030a0" stroke-width="6.0"/></g><g transform="translate(1170.10,94.0)"><path d="M6.3,-34 V0" fill="none" stroke="#7030a0" stroke-width="6.0"/><path d="M0,-22.3 H12.6" fill="none" stroke="#7030a0" stroke-width="5.5"/></g><g transform="translate(1185.00,94.0)"><path d="M3.1,-12.6 H22.9" fill="none" stroke="#7030a0" stroke-width="5.4"/><path d="M22.9,-12.6 A9.9,10 0 1 0 20.2,-5.3" fill="none" stroke="#7030a0" stroke-width="6.2"/></g><g transform="translate(833.95,148.6)"><path d="M3.3,-34 V0" fill="none" stroke="#7030a0" stroke-width="6.6"/><path d="M3.3,-30.9 H10.5 C18.8,-30.9 23.8,-25.0 23.8,-17.0 C23.8,-9.0 18.8,-3.1 10.5,-3.1 H3.3" fill="none" stroke="#7030a0" stroke-width="6.2"/></g><g transform="translate(864.38,148.6)"><ellipse cx="12.0" cy="-12.6" rx="8.9" ry="10.0" fill="none" stroke="#7030a0" stroke-width="6.2"/><path d="M22.3,-24.9 V0" fill="none" stroke="#7030a0" stroke-width="6.0"/></g><g transform="translate(893.90,148.6)"><path d="M14.6,-20.4 C13.3,-22.1 11.4,-22.8 9.0,-22.8 C5.7,-22.8 3.3,-20.9 3.3,-18.0 C3.3,-14.8 6.4,-13.9 9.0,-12.9 C12.0,-11.9 14.1,-10.4 14.1,-7.1 C14.1,-4.0 11.6,-2.1 8.4,-2.1 C5.6,-2.1 3.5,-3.3 2.3,-5.4" fill="none" stroke="#7030a0" stroke-width="5.7"/></g><g transform="translate(916.22,148.6)"><path d="M2.95,-34 V0" fill="none" stroke="#7030a0" stroke-width="5.9"/><path d="M2.95,-13.5 C3.0,-19.3 6.5,-21.9 10.6,-21.9 C15.4,-21.9 18.3,-19.3 18.3,-13.5 V0" fill="none" stroke="#7030a0" stroke-width="6.0"/></g><g transform="translate(941.65,148.6)"><path d="M3.1,-12.6 H22.9" fill="none" stroke="#7030a0" stroke-width="5.4"/><path d="M22.9,-12.6 A9.9,10 0 1 0 20.2,-5.3" fill="none" stroke="#7030a0" stroke-width="6.2"/></g><g transform="translate(970.42,148.6)"><ellipse cx="12.0" cy="-12.6" rx="8.9" ry="10.0" fill="none" stroke="#7030a0" stroke-width="6.2"/><path d="M22.6,-34 V0" fill="none" stroke="#7030a0" stroke-width="6.2"/></g><g transform="translate(1001.65,148.6)"><circle cx="3.75" cy="-21.7" r="3.75" fill="#7030a0"/><circle cx="3.75" cy="-3.5" r="3.75" fill="#7030a0"/></g><g transform="translate(1024.38,148.6)"><path d="M5.3,0 V-25 C5.3,-29.6 7.6,-31.2 12.7,-31.2" fill="none" stroke="#7030a0" stroke-width="6.0"/><path d="M0,-22.3 H12.2" fill="none" stroke="#7030a0" stroke-width="5.5"/></g><g transform="translate(1038.65,148.6)"><path d="M3.2,-24.9 V0" fill="none" stroke="#7030a0" stroke-width="6.4"/><path d="M3.2,-15.5 C4.4,-20.6 7.6,-22.2 12.9,-22.2" fill="none" stroke="#7030a0" stroke-width="5.6"/></g><g transform="translate(1053.25,148.6)"><path d="M3.1,-12.6 H22.9" fill="none" stroke="#7030a0" stroke-width="5.4"/><path d="M22.9,-12.6 A9.9,10 0 1 0 20.2,-5.3" fill="none" stroke="#7030a0" stroke-width="6.2"/></g><g transform="translate(1082.78,148.6)"><ellipse cx="12.0" cy="-12.6" rx="8.9" ry="10.0" fill="none" stroke="#7030a0" stroke-width="6.2"/><path d="M22.3,-24.9 V8.4" fill="none" stroke="#7030a0" stroke-width="6.0"/></g><g transform="translate(1113.47,148.6)"><path d="M3.1,-24.9 V-11.5 C3.1,-5.6 6.2,-3.0 10.8,-3.0 C15.8,-3.0 19.1,-5.6 19.1,-11.5" fill="none" stroke="#7030a0" stroke-width="6.0"/><path d="M19.1,-24.9 V0" fill="none" stroke="#7030a0" stroke-width="6.2"/></g><g transform="translate(1139.60,148.6)"><path d="M3.1,-12.6 H22.9" fill="none" stroke="#7030a0" stroke-width="5.4"/><path d="M22.9,-12.6 A9.9,10 0 1 0 20.2,-5.3" fill="none" stroke="#7030a0" stroke-width="6.2"/></g><g transform="translate(1170.15,148.6)"><path d="M3.0,-24.9 V0" fill="none" stroke="#7030a0" stroke-width="6.0"/><path d="M3.0,-13.5 C3.0,-19.3 6.6,-21.9 10.9,-21.9 C15.8,-21.9 18.9,-19.3 18.9,-13.5 V0" fill="none" stroke="#7030a0" stroke-width="6.0"/></g><g transform="translate(1196.22,148.6)"><path d="M21.8,-18.3 A10.0,10 0 1 0 21.8,-6.9" fill="none" stroke="#7030a0" stroke-width="6.2"/></g><g transform="translate(1224.00,148.6)"><path d="M0,-24.6 L6.75,-24.6 L12.45,-9.6 L19,-24.6 L25.75,-24.6 L11,8.9 L4.25,8.9 L9.0,-2.1 Z" fill="#7030a0" fill-rule="evenodd"/></g><g transform="translate(548.25,486.1)"><path d="M3.25,-33.1 V0" fill="none" stroke="#ff0000" stroke-width="6.5"/><path d="M3.25,-29.95 H9.5 C14.3,-29.95 16.6,-27.2 16.6,-23.3 C16.6,-19.4 14.3,-17.65 9.5,-17.65 H3.25" fill="none" stroke="#ff0000" stroke-width="6.0"/><path d="M6.2,-15.4 L13.6,-15.4 L21.1,0 L14.0,0 Z" fill="#ff0000" fill-rule="evenodd"/></g><g transform="translate(572.15,486.1)"><ellipse cx="12.95" cy="-12.6" rx="9.85" ry="10.0" fill="none" stroke="#ff0000" stroke-width="6.2"/></g><g transform="translate(601.30,486.1)"><ellipse cx="12.95" cy="-12.6" rx="9.85" ry="10.0" fill="none" stroke="#ff0000" stroke-width="6.2"/></g><g transform="translate(629.75,486.1)"><path d="M6.3,-34 V0" fill="none" stroke="#ff0000" stroke-width="6.0"/><path d="M0,-22.3 H12.6" fill="none" stroke="#ff0000" stroke-width="5.5"/></g><g transform="translate(646.05,486.1)"><path d="M0,-15.0 H12 V-9.2 H0 Z" fill="#ff0000" fill-rule="evenodd"/></g><g transform="translate(662.48,486.1)"><path d="M0,0 L12.4,-33.1 L19.3,-33.1 L31.7,0 L24.8,0 L22.0,-6.7 L9.7,-6.7 L6.9,0 Z M11.9,-13.0 L19.8,-13.0 L15.85,-23.5 Z" fill="#ff0000" fill-rule="evenodd"/></g><g transform="translate(771.75,542.0)"><path d="M3.25,-33.1 V0" fill="none" stroke="#0033ff" stroke-width="6.5"/><path d="M3.25,-29.95 H9.5 C14.3,-29.95 16.6,-27.2 16.6,-23.3 C16.6,-19.4 14.3,-17.65 9.5,-17.65 H3.25" fill="none" stroke="#0033ff" stroke-width="6.0"/><path d="M6.2,-15.4 L13.6,-15.4 L21.1,0 L14.0,0 Z" fill="#0033ff" fill-rule="evenodd"/></g><g transform="translate(796.15,542.0)"><ellipse cx="12.95" cy="-12.6" rx="9.85" ry="10.0" fill="none" stroke="#0033ff" stroke-width="6.2"/></g><g transform="translate(825.10,542.0)"><ellipse cx="12.95" cy="-12.6" rx="9.85" ry="10.0" fill="none" stroke="#0033ff" stroke-width="6.2"/></g><g transform="translate(853.25,542.0)"><path d="M6.3,-34 V0" fill="none" stroke="#0033ff" stroke-width="6.0"/><path d="M0,-22.3 H12.6" fill="none" stroke="#0033ff" stroke-width="5.5"/></g><g transform="translate(869.62,542.0)"><path d="M0,-15.0 H12 V-9.2 H0 Z" fill="#0033ff" fill-rule="evenodd"/></g><g transform="translate(888.75,542.0)"><path d="M3.1,-33 V0" fill="none" stroke="#0033ff" stroke-width="6.25"/><path d="M3.1,-30 H10.2 C13.6,-30 15.25,-27.6 15.25,-24.3 C15.25,-20.2 13.4,-17.3 10.2,-17.3 H3.1" fill="none" stroke="#0033ff" stroke-width="6.0"/><path d="M3.1,-17.3 H11.0 C15.4,-17.3 17.75,-14.2 17.75,-10.1 C17.75,-5.6 15.2,-3.0 11.0,-3.0 H3.1" fill="none" stroke="#0033ff" stroke-width="6.0"/></g><g transform="translate(997.55,630.8)"><path d="M3.25,-33.1 V0" fill="none" stroke="#000000" stroke-width="6.5"/><path d="M3.25,-29.95 H9.5 C14.3,-29.95 16.6,-27.2 16.6,-23.3 C16.6,-19.4 14.3,-17.65 9.5,-17.65 H3.25" fill="none" stroke="#000000" stroke-width="6.0"/><path d="M6.2,-15.4 L13.6,-15.4 L21.1,0 L14.0,0 Z" fill="#000000" fill-rule="evenodd"/></g><g transform="translate(1022.00,630.8)"><ellipse cx="12.95" cy="-12.6" rx="9.85" ry="10.0" fill="none" stroke="#000000" stroke-width="6.2"/></g><g transform="translate(1051.10,630.8)"><ellipse cx="12.95" cy="-12.6" rx="9.85" ry="10.0" fill="none" stroke="#000000" stroke-width="6.2"/></g><g transform="translate(1079.35,630.8)"><path d="M6.3,-34 V0" fill="none" stroke="#000000" stroke-width="6.0"/><path d="M0,-22.3 H12.6" fill="none" stroke="#000000" stroke-width="5.5"/></g><g transform="translate(1095.75,630.8)"><path d="M0,-15.0 H12 V-9.2 H0 Z" fill="#000000" fill-rule="evenodd"/></g><g transform="translate(1113.55,630.8)"><path d="M29.5,-25.3 A15,14.2 0 1 0 29.5,-7.3" fill="none" stroke="#000000" stroke-width="6.2"/></g>
</svg></body></html>
